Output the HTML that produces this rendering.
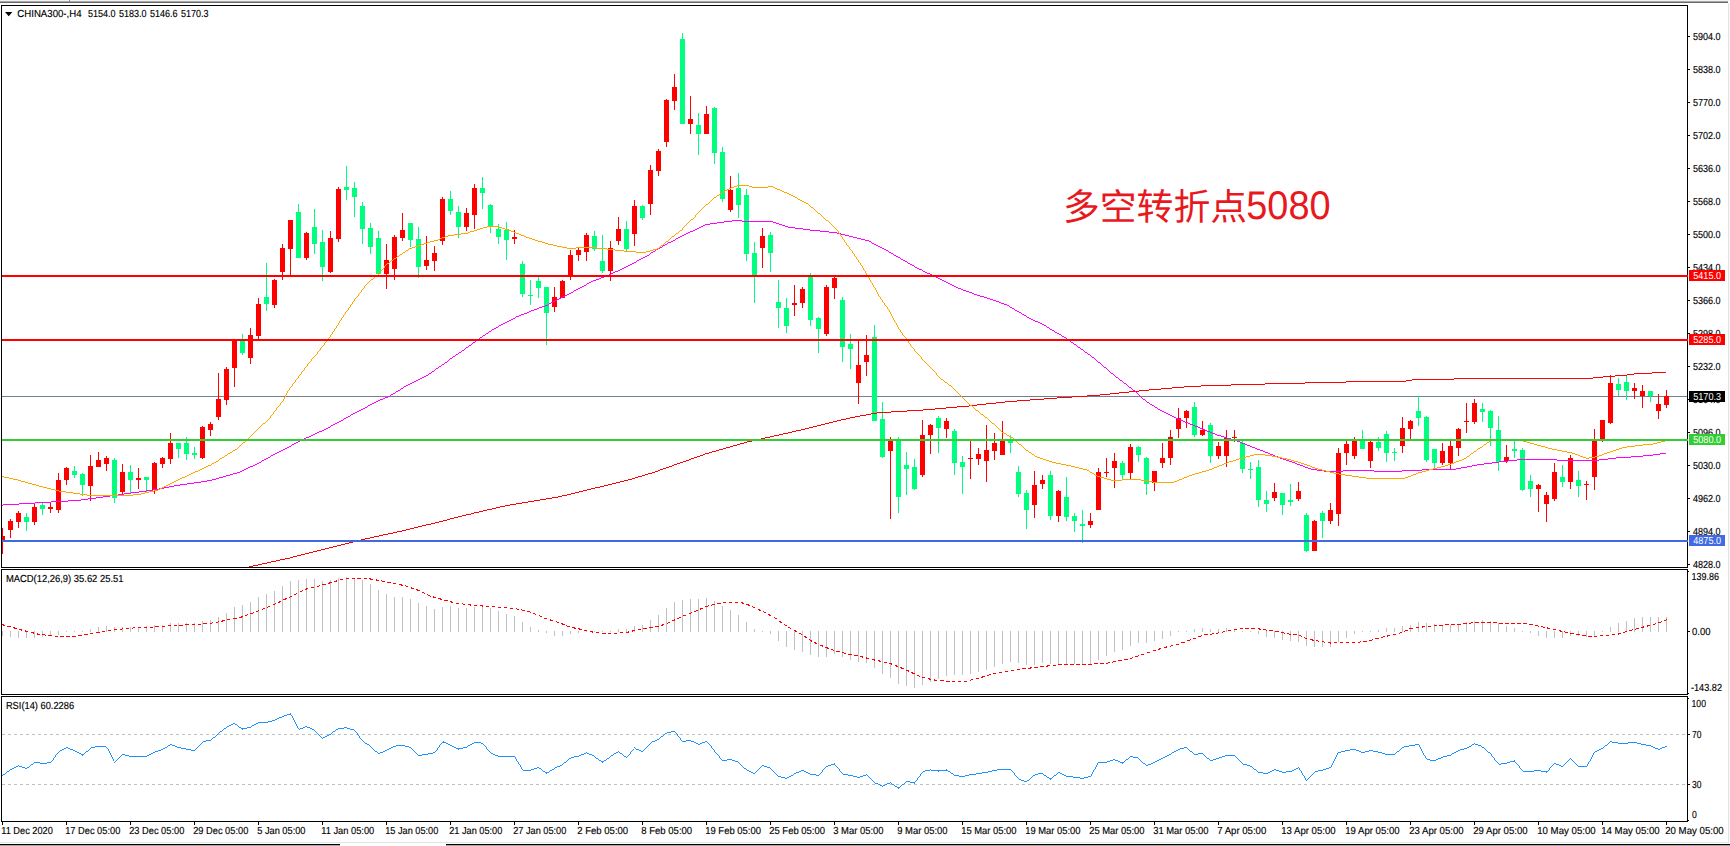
<!DOCTYPE html>
<html lang="zh"><head><meta charset="utf-8"><title>CHINA300-,H4</title>
<style>html,body{margin:0;padding:0;background:#fff;overflow:hidden}svg{display:block}text{font-family:"Liberation Sans", "Noto Sans CJK SC", sans-serif;text-rendering:geometricPrecision}.t{font-size:10.2px;fill:#000;stroke:#000;stroke-width:.15px}.w{font-size:10.2px;fill:#fff}.c{shape-rendering:crispEdges}</style></head><body>
<svg width="1730" height="846" viewBox="0 0 1730 846">
<rect width="1730" height="846" fill="#fff"/>
<g class="c">
<rect x="0" y="0" width="1730" height="1" fill="#f2f2f2"/>
<rect x="0" y="1" width="1728" height="1" fill="#a6a6a6"/>
<rect x="0" y="2" width="1728" height="1" fill="#6a6a6a"/>
<rect x="69" y="0" width="1" height="2" fill="#8a8a8a"/>
<rect x="1728" y="3" width="1" height="840" fill="#e3e3e3"/>
<rect x="1729" y="0" width="1" height="846" fill="#f8f8f8"/>
<rect x="0" y="842" width="1729" height="1" fill="#e3e3e3"/>
<rect x="0" y="844" width="340" height="1" fill="#000"/>
<rect x="339" y="844" width="1" height="2" fill="#000"/>
<rect x="446" y="844" width="1284" height="1" fill="#000"/>
<rect x="446" y="844" width="1" height="2" fill="#000"/>
<rect x="0" y="845" width="340" height="1" fill="#aaa"/>
<rect x="446" y="845" width="1284" height="1" fill="#aaa"/>
<rect x="1" y="5" width="1687" height="1" fill="#000"/>
<rect x="1" y="567" width="1687" height="1" fill="#000"/>
<rect x="1" y="5" width="1" height="563" fill="#000"/>
<rect x="1687" y="5" width="1" height="563" fill="#000"/>
<rect x="1" y="569" width="1687" height="1" fill="#000"/>
<rect x="1" y="694" width="1687" height="1" fill="#000"/>
<rect x="1" y="569" width="1" height="126" fill="#000"/>
<rect x="1687" y="569" width="1" height="126" fill="#000"/>
<rect x="1" y="696" width="1687" height="1" fill="#000"/>
<rect x="1" y="821" width="1687" height="1" fill="#000"/>
<rect x="1" y="696" width="1" height="126" fill="#000"/>
<rect x="1687" y="696" width="1" height="126" fill="#000"/>
</g>
<defs><clipPath id="cm"><rect x="2" y="6" width="1685" height="561"/></clipPath><clipPath id="c2"><rect x="2" y="570" width="1685" height="124"/></clipPath><clipPath id="c3"><rect x="2" y="697" width="1685" height="124"/></clipPath></defs>
<g clip-path="url(#cm)" class="c">
<rect x="2" y="396" width="1685" height="1" fill="#708090"/>
<rect x="2" y="528" width="1" height="26" fill="#ff0000"/>
<rect x="0" y="536" width="5" height="5" fill="#ff0000"/>
<rect x="10" y="519" width="1" height="19" fill="#ff0000"/>
<rect x="8" y="521" width="5" height="9" fill="#ff0000"/>
<rect x="18" y="511" width="1" height="17" fill="#ff0000"/>
<rect x="16" y="513" width="5" height="9" fill="#ff0000"/>
<rect x="26" y="513" width="1" height="18" fill="#00ff7f"/>
<rect x="24" y="517" width="5" height="5" fill="#00ff7f"/>
<rect x="34" y="503" width="1" height="22" fill="#ff0000"/>
<rect x="32" y="507" width="5" height="15" fill="#ff0000"/>
<rect x="42" y="502" width="1" height="13" fill="#00ff7f"/>
<rect x="40" y="505" width="5" height="4" fill="#00ff7f"/>
<rect x="50" y="502" width="1" height="11" fill="#ff0000"/>
<rect x="48" y="507" width="5" height="2" fill="#ff0000"/>
<rect x="58" y="473" width="1" height="40" fill="#ff0000"/>
<rect x="56" y="480" width="5" height="30" fill="#ff0000"/>
<rect x="66" y="467" width="1" height="18" fill="#ff0000"/>
<rect x="64" y="468" width="5" height="12" fill="#ff0000"/>
<rect x="74" y="466" width="1" height="12" fill="#00ff7f"/>
<rect x="72" y="471" width="5" height="4" fill="#00ff7f"/>
<rect x="82" y="473" width="1" height="23" fill="#00ff7f"/>
<rect x="80" y="474" width="5" height="11" fill="#00ff7f"/>
<rect x="90" y="455" width="1" height="46" fill="#ff0000"/>
<rect x="88" y="466" width="5" height="20" fill="#ff0000"/>
<rect x="98" y="452" width="1" height="15" fill="#ff0000"/>
<rect x="96" y="460" width="5" height="7" fill="#ff0000"/>
<rect x="106" y="456" width="1" height="15" fill="#ff0000"/>
<rect x="104" y="458" width="5" height="6" fill="#ff0000"/>
<rect x="114" y="458" width="1" height="45" fill="#00ff7f"/>
<rect x="112" y="460" width="5" height="38" fill="#00ff7f"/>
<rect x="122" y="464" width="1" height="30" fill="#ff0000"/>
<rect x="120" y="472" width="5" height="20" fill="#ff0000"/>
<rect x="130" y="465" width="1" height="28" fill="#00ff7f"/>
<rect x="128" y="472" width="5" height="8" fill="#00ff7f"/>
<rect x="138" y="468" width="1" height="21" fill="#ff0000"/>
<rect x="136" y="478" width="5" height="2" fill="#ff0000"/>
<rect x="146" y="477" width="1" height="15" fill="#00ff7f"/>
<rect x="144" y="477" width="5" height="3" fill="#00ff7f"/>
<rect x="154" y="462" width="1" height="32" fill="#ff0000"/>
<rect x="152" y="463" width="5" height="27" fill="#ff0000"/>
<rect x="162" y="457" width="1" height="11" fill="#ff0000"/>
<rect x="160" y="458" width="5" height="6" fill="#ff0000"/>
<rect x="170" y="433" width="1" height="31" fill="#ff0000"/>
<rect x="168" y="443" width="5" height="16" fill="#ff0000"/>
<rect x="178" y="443" width="1" height="15" fill="#00ff7f"/>
<rect x="176" y="443" width="5" height="6" fill="#00ff7f"/>
<rect x="186" y="437" width="1" height="23" fill="#00ff7f"/>
<rect x="184" y="443" width="5" height="11" fill="#00ff7f"/>
<rect x="194" y="447" width="1" height="12" fill="#00ff7f"/>
<rect x="192" y="453" width="5" height="2" fill="#00ff7f"/>
<rect x="202" y="426" width="1" height="33" fill="#ff0000"/>
<rect x="200" y="427" width="5" height="31" fill="#ff0000"/>
<rect x="210" y="422" width="1" height="14" fill="#ff0000"/>
<rect x="208" y="424" width="5" height="6" fill="#ff0000"/>
<rect x="218" y="373" width="1" height="47" fill="#ff0000"/>
<rect x="216" y="399" width="5" height="18" fill="#ff0000"/>
<rect x="226" y="367" width="1" height="38" fill="#ff0000"/>
<rect x="224" y="369" width="5" height="31" fill="#ff0000"/>
<rect x="234" y="340" width="1" height="47" fill="#ff0000"/>
<rect x="232" y="340" width="5" height="28" fill="#ff0000"/>
<rect x="242" y="334" width="1" height="21" fill="#00ff7f"/>
<rect x="240" y="341" width="5" height="12" fill="#00ff7f"/>
<rect x="250" y="328" width="1" height="36" fill="#ff0000"/>
<rect x="248" y="335" width="5" height="23" fill="#ff0000"/>
<rect x="258" y="298" width="1" height="41" fill="#ff0000"/>
<rect x="256" y="304" width="5" height="32" fill="#ff0000"/>
<rect x="266" y="263" width="1" height="48" fill="#00ff7f"/>
<rect x="264" y="297" width="5" height="7" fill="#00ff7f"/>
<rect x="274" y="279" width="1" height="29" fill="#ff0000"/>
<rect x="272" y="280" width="5" height="25" fill="#ff0000"/>
<rect x="282" y="244" width="1" height="36" fill="#ff0000"/>
<rect x="280" y="248" width="5" height="24" fill="#ff0000"/>
<rect x="290" y="220" width="1" height="56" fill="#ff0000"/>
<rect x="288" y="220" width="5" height="29" fill="#ff0000"/>
<rect x="298" y="204" width="1" height="54" fill="#00ff7f"/>
<rect x="296" y="212" width="5" height="46" fill="#00ff7f"/>
<rect x="306" y="232" width="1" height="28" fill="#ff0000"/>
<rect x="304" y="233" width="5" height="25" fill="#ff0000"/>
<rect x="314" y="209" width="1" height="45" fill="#00ff7f"/>
<rect x="312" y="227" width="5" height="17" fill="#00ff7f"/>
<rect x="322" y="230" width="1" height="51" fill="#00ff7f"/>
<rect x="320" y="242" width="5" height="25" fill="#00ff7f"/>
<rect x="330" y="231" width="1" height="42" fill="#ff0000"/>
<rect x="328" y="238" width="5" height="34" fill="#ff0000"/>
<rect x="338" y="187" width="1" height="55" fill="#ff0000"/>
<rect x="336" y="189" width="5" height="50" fill="#ff0000"/>
<rect x="346" y="166" width="1" height="34" fill="#00ff7f"/>
<rect x="344" y="187" width="5" height="3" fill="#00ff7f"/>
<rect x="354" y="182" width="1" height="35" fill="#00ff7f"/>
<rect x="352" y="188" width="5" height="9" fill="#00ff7f"/>
<rect x="362" y="202" width="1" height="42" fill="#00ff7f"/>
<rect x="360" y="206" width="5" height="23" fill="#00ff7f"/>
<rect x="370" y="223" width="1" height="31" fill="#00ff7f"/>
<rect x="368" y="228" width="5" height="19" fill="#00ff7f"/>
<rect x="378" y="231" width="1" height="44" fill="#00ff7f"/>
<rect x="376" y="238" width="5" height="36" fill="#00ff7f"/>
<rect x="386" y="244" width="1" height="45" fill="#ff0000"/>
<rect x="384" y="260" width="5" height="14" fill="#ff0000"/>
<rect x="394" y="235" width="1" height="45" fill="#ff0000"/>
<rect x="392" y="237" width="5" height="32" fill="#ff0000"/>
<rect x="402" y="213" width="1" height="28" fill="#ff0000"/>
<rect x="400" y="230" width="5" height="8" fill="#ff0000"/>
<rect x="410" y="223" width="1" height="24" fill="#00ff7f"/>
<rect x="408" y="223" width="5" height="17" fill="#00ff7f"/>
<rect x="418" y="227" width="1" height="51" fill="#00ff7f"/>
<rect x="416" y="239" width="5" height="28" fill="#00ff7f"/>
<rect x="426" y="236" width="1" height="34" fill="#ff0000"/>
<rect x="424" y="260" width="5" height="6" fill="#ff0000"/>
<rect x="434" y="246" width="1" height="25" fill="#ff0000"/>
<rect x="432" y="253" width="5" height="8" fill="#ff0000"/>
<rect x="442" y="197" width="1" height="48" fill="#ff0000"/>
<rect x="440" y="199" width="5" height="42" fill="#ff0000"/>
<rect x="450" y="191" width="1" height="24" fill="#00ff7f"/>
<rect x="448" y="199" width="5" height="12" fill="#00ff7f"/>
<rect x="458" y="206" width="1" height="32" fill="#00ff7f"/>
<rect x="456" y="212" width="5" height="15" fill="#00ff7f"/>
<rect x="466" y="208" width="1" height="23" fill="#ff0000"/>
<rect x="464" y="213" width="5" height="14" fill="#ff0000"/>
<rect x="474" y="184" width="1" height="45" fill="#ff0000"/>
<rect x="472" y="188" width="5" height="27" fill="#ff0000"/>
<rect x="482" y="177" width="1" height="32" fill="#00ff7f"/>
<rect x="480" y="188" width="5" height="5" fill="#00ff7f"/>
<rect x="490" y="204" width="1" height="29" fill="#00ff7f"/>
<rect x="488" y="205" width="5" height="22" fill="#00ff7f"/>
<rect x="498" y="224" width="1" height="20" fill="#00ff7f"/>
<rect x="496" y="229" width="5" height="8" fill="#00ff7f"/>
<rect x="506" y="222" width="1" height="38" fill="#00ff7f"/>
<rect x="504" y="230" width="5" height="10" fill="#00ff7f"/>
<rect x="514" y="230" width="1" height="14" fill="#ff0000"/>
<rect x="512" y="237" width="5" height="2" fill="#ff0000"/>
<rect x="522" y="261" width="1" height="36" fill="#00ff7f"/>
<rect x="520" y="264" width="5" height="30" fill="#00ff7f"/>
<rect x="530" y="280" width="1" height="25" fill="#00ff7f"/>
<rect x="528" y="295" width="5" height="1" fill="#00ff7f"/>
<rect x="538" y="277" width="1" height="21" fill="#00ff7f"/>
<rect x="536" y="281" width="5" height="7" fill="#00ff7f"/>
<rect x="546" y="287" width="1" height="58" fill="#00ff7f"/>
<rect x="544" y="287" width="5" height="26" fill="#00ff7f"/>
<rect x="554" y="287" width="1" height="25" fill="#ff0000"/>
<rect x="552" y="297" width="5" height="10" fill="#ff0000"/>
<rect x="562" y="280" width="1" height="18" fill="#ff0000"/>
<rect x="560" y="281" width="5" height="17" fill="#ff0000"/>
<rect x="570" y="250" width="1" height="30" fill="#ff0000"/>
<rect x="568" y="255" width="5" height="21" fill="#ff0000"/>
<rect x="578" y="247" width="1" height="14" fill="#ff0000"/>
<rect x="576" y="250" width="5" height="5" fill="#ff0000"/>
<rect x="586" y="233" width="1" height="28" fill="#ff0000"/>
<rect x="584" y="235" width="5" height="17" fill="#ff0000"/>
<rect x="594" y="231" width="1" height="20" fill="#00ff7f"/>
<rect x="592" y="236" width="5" height="13" fill="#00ff7f"/>
<rect x="602" y="235" width="1" height="38" fill="#00ff7f"/>
<rect x="600" y="261" width="5" height="10" fill="#00ff7f"/>
<rect x="610" y="241" width="1" height="40" fill="#ff0000"/>
<rect x="608" y="248" width="5" height="23" fill="#ff0000"/>
<rect x="618" y="217" width="1" height="28" fill="#ff0000"/>
<rect x="616" y="229" width="5" height="12" fill="#ff0000"/>
<rect x="626" y="221" width="1" height="30" fill="#00ff7f"/>
<rect x="624" y="229" width="5" height="20" fill="#00ff7f"/>
<rect x="634" y="200" width="1" height="46" fill="#ff0000"/>
<rect x="632" y="206" width="5" height="28" fill="#ff0000"/>
<rect x="642" y="205" width="1" height="15" fill="#00ff7f"/>
<rect x="640" y="206" width="5" height="12" fill="#00ff7f"/>
<rect x="650" y="165" width="1" height="50" fill="#ff0000"/>
<rect x="648" y="170" width="5" height="34" fill="#ff0000"/>
<rect x="658" y="149" width="1" height="27" fill="#ff0000"/>
<rect x="656" y="151" width="5" height="20" fill="#ff0000"/>
<rect x="666" y="99" width="1" height="48" fill="#ff0000"/>
<rect x="664" y="100" width="5" height="42" fill="#ff0000"/>
<rect x="674" y="74" width="1" height="36" fill="#ff0000"/>
<rect x="672" y="87" width="5" height="14" fill="#ff0000"/>
<rect x="682" y="33" width="1" height="91" fill="#00ff7f"/>
<rect x="680" y="39" width="5" height="85" fill="#00ff7f"/>
<rect x="690" y="96" width="1" height="38" fill="#ff0000"/>
<rect x="688" y="119" width="5" height="5" fill="#ff0000"/>
<rect x="698" y="113" width="1" height="42" fill="#00ff7f"/>
<rect x="696" y="125" width="5" height="9" fill="#00ff7f"/>
<rect x="706" y="106" width="1" height="28" fill="#ff0000"/>
<rect x="704" y="114" width="5" height="20" fill="#ff0000"/>
<rect x="714" y="107" width="1" height="57" fill="#00ff7f"/>
<rect x="712" y="108" width="5" height="45" fill="#00ff7f"/>
<rect x="722" y="147" width="1" height="55" fill="#00ff7f"/>
<rect x="720" y="152" width="5" height="47" fill="#00ff7f"/>
<rect x="730" y="176" width="1" height="36" fill="#ff0000"/>
<rect x="728" y="190" width="5" height="20" fill="#ff0000"/>
<rect x="738" y="173" width="1" height="45" fill="#00ff7f"/>
<rect x="736" y="188" width="5" height="17" fill="#00ff7f"/>
<rect x="746" y="189" width="1" height="72" fill="#00ff7f"/>
<rect x="744" y="195" width="5" height="59" fill="#00ff7f"/>
<rect x="754" y="242" width="1" height="61" fill="#00ff7f"/>
<rect x="752" y="253" width="5" height="23" fill="#00ff7f"/>
<rect x="762" y="228" width="1" height="40" fill="#ff0000"/>
<rect x="760" y="236" width="5" height="12" fill="#ff0000"/>
<rect x="770" y="232" width="1" height="40" fill="#00ff7f"/>
<rect x="768" y="235" width="5" height="18" fill="#00ff7f"/>
<rect x="778" y="280" width="1" height="48" fill="#00ff7f"/>
<rect x="776" y="302" width="5" height="6" fill="#00ff7f"/>
<rect x="786" y="298" width="1" height="35" fill="#00ff7f"/>
<rect x="784" y="308" width="5" height="18" fill="#00ff7f"/>
<rect x="794" y="285" width="1" height="31" fill="#ff0000"/>
<rect x="792" y="303" width="5" height="2" fill="#ff0000"/>
<rect x="802" y="287" width="1" height="21" fill="#ff0000"/>
<rect x="800" y="289" width="5" height="14" fill="#ff0000"/>
<rect x="810" y="273" width="1" height="53" fill="#00ff7f"/>
<rect x="808" y="277" width="5" height="43" fill="#00ff7f"/>
<rect x="818" y="317" width="1" height="36" fill="#00ff7f"/>
<rect x="816" y="318" width="5" height="11" fill="#00ff7f"/>
<rect x="826" y="285" width="1" height="51" fill="#ff0000"/>
<rect x="824" y="287" width="5" height="47" fill="#ff0000"/>
<rect x="834" y="277" width="1" height="22" fill="#ff0000"/>
<rect x="832" y="278" width="5" height="10" fill="#ff0000"/>
<rect x="842" y="297" width="1" height="65" fill="#00ff7f"/>
<rect x="840" y="300" width="5" height="47" fill="#00ff7f"/>
<rect x="850" y="334" width="1" height="35" fill="#00ff7f"/>
<rect x="848" y="344" width="5" height="5" fill="#00ff7f"/>
<rect x="858" y="340" width="1" height="64" fill="#ff0000"/>
<rect x="856" y="365" width="5" height="18" fill="#ff0000"/>
<rect x="866" y="335" width="1" height="41" fill="#ff0000"/>
<rect x="864" y="355" width="5" height="7" fill="#ff0000"/>
<rect x="874" y="325" width="1" height="96" fill="#00ff7f"/>
<rect x="872" y="337" width="5" height="84" fill="#00ff7f"/>
<rect x="882" y="402" width="1" height="56" fill="#00ff7f"/>
<rect x="880" y="419" width="5" height="38" fill="#00ff7f"/>
<rect x="890" y="437" width="1" height="82" fill="#ff0000"/>
<rect x="888" y="441" width="5" height="10" fill="#ff0000"/>
<rect x="898" y="437" width="1" height="76" fill="#00ff7f"/>
<rect x="896" y="441" width="5" height="56" fill="#00ff7f"/>
<rect x="906" y="452" width="1" height="43" fill="#00ff7f"/>
<rect x="904" y="465" width="5" height="4" fill="#00ff7f"/>
<rect x="914" y="459" width="1" height="31" fill="#00ff7f"/>
<rect x="912" y="467" width="5" height="22" fill="#00ff7f"/>
<rect x="922" y="420" width="1" height="57" fill="#ff0000"/>
<rect x="920" y="435" width="5" height="40" fill="#ff0000"/>
<rect x="930" y="424" width="1" height="30" fill="#ff0000"/>
<rect x="928" y="425" width="5" height="10" fill="#ff0000"/>
<rect x="938" y="416" width="1" height="37" fill="#00ff7f"/>
<rect x="936" y="418" width="5" height="10" fill="#00ff7f"/>
<rect x="946" y="418" width="1" height="20" fill="#ff0000"/>
<rect x="944" y="421" width="5" height="8" fill="#ff0000"/>
<rect x="954" y="429" width="1" height="46" fill="#00ff7f"/>
<rect x="952" y="431" width="5" height="32" fill="#00ff7f"/>
<rect x="962" y="456" width="1" height="38" fill="#00ff7f"/>
<rect x="960" y="462" width="5" height="5" fill="#00ff7f"/>
<rect x="970" y="441" width="1" height="38" fill="#ff0000"/>
<rect x="968" y="458" width="5" height="1" fill="#ff0000"/>
<rect x="978" y="448" width="1" height="17" fill="#ff0000"/>
<rect x="976" y="454" width="5" height="5" fill="#ff0000"/>
<rect x="986" y="425" width="1" height="57" fill="#ff0000"/>
<rect x="984" y="450" width="5" height="11" fill="#ff0000"/>
<rect x="994" y="433" width="1" height="27" fill="#ff0000"/>
<rect x="992" y="443" width="5" height="8" fill="#ff0000"/>
<rect x="1002" y="421" width="1" height="34" fill="#ff0000"/>
<rect x="1000" y="440" width="5" height="15" fill="#ff0000"/>
<rect x="1010" y="435" width="1" height="18" fill="#00ff7f"/>
<rect x="1008" y="439" width="5" height="4" fill="#00ff7f"/>
<rect x="1018" y="466" width="1" height="31" fill="#00ff7f"/>
<rect x="1016" y="472" width="5" height="22" fill="#00ff7f"/>
<rect x="1026" y="490" width="1" height="39" fill="#00ff7f"/>
<rect x="1024" y="493" width="5" height="17" fill="#00ff7f"/>
<rect x="1034" y="471" width="1" height="47" fill="#ff0000"/>
<rect x="1032" y="485" width="5" height="20" fill="#ff0000"/>
<rect x="1042" y="475" width="1" height="14" fill="#ff0000"/>
<rect x="1040" y="480" width="5" height="4" fill="#ff0000"/>
<rect x="1050" y="471" width="1" height="49" fill="#00ff7f"/>
<rect x="1048" y="475" width="5" height="41" fill="#00ff7f"/>
<rect x="1058" y="490" width="1" height="32" fill="#ff0000"/>
<rect x="1056" y="491" width="5" height="25" fill="#ff0000"/>
<rect x="1066" y="477" width="1" height="44" fill="#00ff7f"/>
<rect x="1064" y="497" width="5" height="20" fill="#00ff7f"/>
<rect x="1074" y="513" width="1" height="19" fill="#00ff7f"/>
<rect x="1072" y="516" width="5" height="5" fill="#00ff7f"/>
<rect x="1082" y="510" width="1" height="33" fill="#00ff7f"/>
<rect x="1080" y="524" width="5" height="2" fill="#00ff7f"/>
<rect x="1090" y="513" width="1" height="15" fill="#ff0000"/>
<rect x="1088" y="521" width="5" height="4" fill="#ff0000"/>
<rect x="1098" y="468" width="1" height="42" fill="#ff0000"/>
<rect x="1096" y="472" width="5" height="38" fill="#ff0000"/>
<rect x="1106" y="458" width="1" height="19" fill="#ff0000"/>
<rect x="1104" y="472" width="5" height="1" fill="#ff0000"/>
<rect x="1114" y="453" width="1" height="35" fill="#ff0000"/>
<rect x="1112" y="461" width="5" height="7" fill="#ff0000"/>
<rect x="1122" y="461" width="1" height="18" fill="#00ff7f"/>
<rect x="1120" y="463" width="5" height="12" fill="#00ff7f"/>
<rect x="1130" y="444" width="1" height="35" fill="#ff0000"/>
<rect x="1128" y="447" width="5" height="26" fill="#ff0000"/>
<rect x="1138" y="446" width="1" height="16" fill="#00ff7f"/>
<rect x="1136" y="447" width="5" height="8" fill="#00ff7f"/>
<rect x="1146" y="457" width="1" height="38" fill="#00ff7f"/>
<rect x="1144" y="458" width="5" height="26" fill="#00ff7f"/>
<rect x="1154" y="471" width="1" height="20" fill="#ff0000"/>
<rect x="1152" y="471" width="5" height="12" fill="#ff0000"/>
<rect x="1162" y="443" width="1" height="25" fill="#ff0000"/>
<rect x="1160" y="458" width="5" height="5" fill="#ff0000"/>
<rect x="1170" y="430" width="1" height="35" fill="#ff0000"/>
<rect x="1168" y="437" width="5" height="21" fill="#ff0000"/>
<rect x="1178" y="408" width="1" height="30" fill="#ff0000"/>
<rect x="1176" y="418" width="5" height="11" fill="#ff0000"/>
<rect x="1186" y="410" width="1" height="18" fill="#ff0000"/>
<rect x="1184" y="411" width="5" height="7" fill="#ff0000"/>
<rect x="1194" y="402" width="1" height="35" fill="#00ff7f"/>
<rect x="1192" y="407" width="5" height="28" fill="#00ff7f"/>
<rect x="1202" y="421" width="1" height="15" fill="#ff0000"/>
<rect x="1200" y="430" width="5" height="5" fill="#ff0000"/>
<rect x="1210" y="423" width="1" height="40" fill="#00ff7f"/>
<rect x="1208" y="425" width="5" height="31" fill="#00ff7f"/>
<rect x="1218" y="442" width="1" height="17" fill="#ff0000"/>
<rect x="1216" y="446" width="5" height="10" fill="#ff0000"/>
<rect x="1226" y="430" width="1" height="37" fill="#ff0000"/>
<rect x="1224" y="438" width="5" height="18" fill="#ff0000"/>
<rect x="1234" y="430" width="1" height="12" fill="#ff0000"/>
<rect x="1232" y="437" width="5" height="1" fill="#ff0000"/>
<rect x="1242" y="441" width="1" height="32" fill="#00ff7f"/>
<rect x="1240" y="443" width="5" height="26" fill="#00ff7f"/>
<rect x="1250" y="462" width="1" height="17" fill="#00ff7f"/>
<rect x="1248" y="469" width="5" height="1" fill="#00ff7f"/>
<rect x="1258" y="460" width="1" height="47" fill="#00ff7f"/>
<rect x="1256" y="467" width="5" height="33" fill="#00ff7f"/>
<rect x="1266" y="491" width="1" height="21" fill="#00ff7f"/>
<rect x="1264" y="500" width="5" height="4" fill="#00ff7f"/>
<rect x="1274" y="483" width="1" height="18" fill="#ff0000"/>
<rect x="1272" y="492" width="5" height="6" fill="#ff0000"/>
<rect x="1282" y="493" width="1" height="22" fill="#00ff7f"/>
<rect x="1280" y="493" width="5" height="12" fill="#00ff7f"/>
<rect x="1290" y="484" width="1" height="22" fill="#00ff7f"/>
<rect x="1288" y="500" width="5" height="2" fill="#00ff7f"/>
<rect x="1298" y="482" width="1" height="19" fill="#ff0000"/>
<rect x="1296" y="491" width="5" height="8" fill="#ff0000"/>
<rect x="1306" y="513" width="1" height="39" fill="#00ff7f"/>
<rect x="1304" y="515" width="5" height="36" fill="#00ff7f"/>
<rect x="1314" y="520" width="1" height="31" fill="#ff0000"/>
<rect x="1312" y="521" width="5" height="30" fill="#ff0000"/>
<rect x="1322" y="511" width="1" height="27" fill="#00ff7f"/>
<rect x="1320" y="513" width="5" height="8" fill="#00ff7f"/>
<rect x="1330" y="503" width="1" height="21" fill="#ff0000"/>
<rect x="1328" y="510" width="5" height="11" fill="#ff0000"/>
<rect x="1338" y="448" width="1" height="78" fill="#ff0000"/>
<rect x="1336" y="453" width="5" height="61" fill="#ff0000"/>
<rect x="1346" y="441" width="1" height="24" fill="#ff0000"/>
<rect x="1344" y="444" width="5" height="9" fill="#ff0000"/>
<rect x="1354" y="437" width="1" height="22" fill="#ff0000"/>
<rect x="1352" y="441" width="5" height="15" fill="#ff0000"/>
<rect x="1362" y="430" width="1" height="19" fill="#00ff7f"/>
<rect x="1360" y="441" width="5" height="8" fill="#00ff7f"/>
<rect x="1370" y="441" width="1" height="27" fill="#ff0000"/>
<rect x="1368" y="442" width="5" height="19" fill="#ff0000"/>
<rect x="1378" y="437" width="1" height="14" fill="#00ff7f"/>
<rect x="1376" y="442" width="5" height="6" fill="#00ff7f"/>
<rect x="1386" y="431" width="1" height="31" fill="#00ff7f"/>
<rect x="1384" y="434" width="5" height="19" fill="#00ff7f"/>
<rect x="1394" y="448" width="1" height="13" fill="#00ff7f"/>
<rect x="1392" y="452" width="5" height="1" fill="#00ff7f"/>
<rect x="1402" y="417" width="1" height="36" fill="#ff0000"/>
<rect x="1400" y="428" width="5" height="18" fill="#ff0000"/>
<rect x="1410" y="420" width="1" height="19" fill="#ff0000"/>
<rect x="1408" y="421" width="5" height="8" fill="#ff0000"/>
<rect x="1418" y="396" width="1" height="30" fill="#00ff7f"/>
<rect x="1416" y="411" width="5" height="7" fill="#00ff7f"/>
<rect x="1426" y="416" width="1" height="46" fill="#00ff7f"/>
<rect x="1424" y="417" width="5" height="43" fill="#00ff7f"/>
<rect x="1434" y="449" width="1" height="19" fill="#00ff7f"/>
<rect x="1432" y="449" width="5" height="14" fill="#00ff7f"/>
<rect x="1442" y="443" width="1" height="22" fill="#ff0000"/>
<rect x="1440" y="451" width="5" height="12" fill="#ff0000"/>
<rect x="1450" y="441" width="1" height="28" fill="#ff0000"/>
<rect x="1448" y="446" width="5" height="17" fill="#ff0000"/>
<rect x="1458" y="428" width="1" height="28" fill="#ff0000"/>
<rect x="1456" y="429" width="5" height="19" fill="#ff0000"/>
<rect x="1466" y="403" width="1" height="30" fill="#ff0000"/>
<rect x="1464" y="421" width="5" height="1" fill="#ff0000"/>
<rect x="1474" y="399" width="1" height="25" fill="#ff0000"/>
<rect x="1472" y="403" width="5" height="19" fill="#ff0000"/>
<rect x="1482" y="403" width="1" height="19" fill="#00ff7f"/>
<rect x="1480" y="409" width="5" height="3" fill="#00ff7f"/>
<rect x="1490" y="410" width="1" height="36" fill="#00ff7f"/>
<rect x="1488" y="411" width="5" height="17" fill="#00ff7f"/>
<rect x="1498" y="416" width="1" height="55" fill="#00ff7f"/>
<rect x="1496" y="430" width="5" height="32" fill="#00ff7f"/>
<rect x="1506" y="445" width="1" height="18" fill="#ff0000"/>
<rect x="1504" y="457" width="5" height="4" fill="#ff0000"/>
<rect x="1514" y="441" width="1" height="17" fill="#00ff7f"/>
<rect x="1512" y="449" width="5" height="2" fill="#00ff7f"/>
<rect x="1522" y="448" width="1" height="43" fill="#00ff7f"/>
<rect x="1520" y="450" width="5" height="40" fill="#00ff7f"/>
<rect x="1530" y="475" width="1" height="22" fill="#00ff7f"/>
<rect x="1528" y="481" width="5" height="8" fill="#00ff7f"/>
<rect x="1538" y="484" width="1" height="28" fill="#ff0000"/>
<rect x="1536" y="485" width="5" height="4" fill="#ff0000"/>
<rect x="1546" y="492" width="1" height="30" fill="#ff0000"/>
<rect x="1544" y="495" width="5" height="9" fill="#ff0000"/>
<rect x="1554" y="463" width="1" height="38" fill="#ff0000"/>
<rect x="1552" y="472" width="5" height="27" fill="#ff0000"/>
<rect x="1562" y="465" width="1" height="22" fill="#00ff7f"/>
<rect x="1560" y="477" width="5" height="5" fill="#00ff7f"/>
<rect x="1570" y="455" width="1" height="34" fill="#ff0000"/>
<rect x="1568" y="458" width="5" height="24" fill="#ff0000"/>
<rect x="1578" y="471" width="1" height="26" fill="#00ff7f"/>
<rect x="1576" y="480" width="5" height="6" fill="#00ff7f"/>
<rect x="1586" y="481" width="1" height="19" fill="#ff0000"/>
<rect x="1584" y="484" width="5" height="1" fill="#ff0000"/>
<rect x="1594" y="429" width="1" height="61" fill="#ff0000"/>
<rect x="1592" y="441" width="5" height="36" fill="#ff0000"/>
<rect x="1602" y="420" width="1" height="22" fill="#ff0000"/>
<rect x="1600" y="420" width="5" height="20" fill="#ff0000"/>
<rect x="1610" y="375" width="1" height="49" fill="#ff0000"/>
<rect x="1608" y="383" width="5" height="40" fill="#ff0000"/>
<rect x="1618" y="378" width="1" height="18" fill="#00ff7f"/>
<rect x="1616" y="384" width="5" height="6" fill="#00ff7f"/>
<rect x="1626" y="376" width="1" height="24" fill="#00ff7f"/>
<rect x="1624" y="382" width="5" height="9" fill="#00ff7f"/>
<rect x="1634" y="383" width="1" height="16" fill="#ff0000"/>
<rect x="1632" y="388" width="5" height="3" fill="#ff0000"/>
<rect x="1642" y="385" width="1" height="23" fill="#ff0000"/>
<rect x="1640" y="391" width="5" height="5" fill="#ff0000"/>
<rect x="1650" y="391" width="1" height="11" fill="#00ff7f"/>
<rect x="1648" y="391" width="5" height="5" fill="#00ff7f"/>
<rect x="1658" y="394" width="1" height="25" fill="#ff0000"/>
<rect x="1656" y="404" width="5" height="7" fill="#ff0000"/>
<rect x="1666" y="390" width="1" height="18" fill="#ff0000"/>
<rect x="1664" y="396" width="5" height="9" fill="#ff0000"/>
<path fill="#ff0000" d="M1265 383h40v1h-40zM293 556h4v1h-4zM666 467h3v1h-3zM1412 379h42v1h-42zM1201 385h30v1h-30zM1454 378h139v1h-139zM1161 388h11v1h-11zM357 540h4v1h-4zM977 404h9v1h-9zM891 411h16v1h-16zM1615 375h12v1h-12zM1184 386h17v1h-17zM935 408h11v1h-11zM1231 384h34v1h-34zM841 419h5v1h-5zM1110 393h9v1h-9zM301 554h4v1h-4zM1072 396h15v1h-15zM280 559h5v1h-5zM1603 376h12v1h-12zM1030 399h14v1h-14zM907 410h16v1h-16zM345 543h4v1h-4zM1346 381h60v1h-60zM1100 394h10v1h-10zM1119 392h10v1h-10zM655 471h3v1h-3zM1057 397h15v1h-15zM262 563h5v1h-5zM276 560h4v1h-4zM1005 401h12v1h-12zM850 417h5v1h-5zM309 552h4v1h-4zM829 422h4v1h-4zM648 473h4v1h-4zM290 557h3v1h-3zM1406 380h6v1h-6zM1305 382h41v1h-41zM1149 389h12v1h-12zM1652 372h14v1h-14zM986 403h10v1h-10zM474 512h5v1h-5zM660 469h3v1h-3zM792 431h4v1h-4zM877 412h14v1h-14zM689 459h2v1h-2zM1129 391h10v1h-10zM837 420h4v1h-4zM297 555h4v1h-4zM817 425h4v1h-4zM855 416h5v1h-5zM638 476h4v1h-4zM245 567h4v1h-4zM258 564h4v1h-4zM779 434h4v1h-4zM860 415h6v1h-6zM694 457h3v1h-3zM747 441h5v1h-5zM996 402h9v1h-9zM825 423h4v1h-4zM645 474h3v1h-3zM1139 390h10v1h-10zM285 558h5v1h-5zM1172 387h12v1h-12zM505 505h5v1h-5zM946 407h11v1h-11zM1627 374h7v1h-7zM788 432h4v1h-4zM871 413h6v1h-6zM487 509h5v1h-5zM765 437h5v1h-5zM500 506h5v1h-5zM1044 398h13v1h-13zM652 472h3v1h-3zM813 426h4v1h-4zM683 461h3v1h-3zM516 503h6v1h-6zM730 446h3v1h-3zM462 515h4v1h-4zM774 435h5v1h-5zM957 406h12v1h-12zM1634 373h18v1h-18zM616 482h4v1h-4zM595 487h5v1h-5zM756 439h5v1h-5zM737 444h3v1h-3zM450 518h4v1h-4zM522 502h6v1h-6zM534 500h6v1h-6zM783 433h5v1h-5zM761 438h4v1h-4zM801 429h4v1h-4zM528 501h6v1h-6zM604 485h4v1h-4zM680 462h3v1h-3zM510 504h6v1h-6zM583 490h4v1h-4zM458 516h4v1h-4zM426 524h5v1h-5zM628 479h4v1h-4zM439 521h4v1h-4zM406 529h4v1h-4zM374 536h5v1h-5zM1593 377h10v1h-10zM471 513h3v1h-3zM1087 395h13v1h-13zM591 488h4v1h-4zM435 522h4v1h-4zM414 527h4v1h-4zM552 497h6v1h-6zM361 539h4v1h-4zM744 442h3v1h-3zM923 409h12v1h-12zM726 447h4v1h-4zM579 491h4v1h-4zM388 533h5v1h-5zM546 498h6v1h-6zM422 525h4v1h-4zM674 464h3v1h-3zM402 530h4v1h-4zM370 537h4v1h-4zM719 449h4v1h-4zM349 542h4v1h-4zM383 534h5v1h-5zM733 445h4v1h-4zM587 489h4v1h-4zM567 494h4v1h-4zM1017 400h13v1h-13zM313 551h4v1h-4zM709 452h3v1h-3zM365 538h5v1h-5zM716 450h3v1h-3zM410 528h4v1h-4zM325 548h4v1h-4zM540 499h6v1h-6zM705 453h4v1h-4zM249 566h4v1h-4zM333 546h4v1h-4zM321 549h4v1h-4zM700 455h3v1h-3zM866 414h5v1h-5zM253 565h5v1h-5zM271 561h5v1h-5zM483 510h4v1h-4zM686 460h3v1h-3zM846 418h4v1h-4zM267 562h4v1h-4zM770 436h4v1h-4zM635 477h3v1h-3zM796 430h5v1h-5zM496 507h4v1h-4zM466 514h5v1h-5zM447 519h3v1h-3zM624 480h4v1h-4zM809 427h4v1h-4zM612 483h4v1h-4zM752 440h4v1h-4zM397 531h5v1h-5zM479 511h4v1h-4zM600 486h4v1h-4zM562 495h5v1h-5zM672 465h2v1h-2zM575 492h4v1h-4zM431 523h4v1h-4zM418 526h4v1h-4zM379 535h4v1h-4zM329 547h4v1h-4zM833 421h4v1h-4zM317 550h4v1h-4zM691 458h3v1h-3zM821 424h4v1h-4zM305 553h4v1h-4zM642 475h3v1h-3zM492 508h4v1h-4zM632 478h3v1h-3zM740 443h4v1h-4zM620 481h4v1h-4zM805 428h4v1h-4zM677 463h3v1h-3zM608 484h4v1h-4zM723 448h3v1h-3zM454 517h4v1h-4zM353 541h4v1h-4zM712 451h4v1h-4zM443 520h4v1h-4zM341 544h4v1h-4zM558 496h4v1h-4zM969 405h8v1h-8zM393 532h4v1h-4zM658 470h2v1h-2zM571 493h4v1h-4zM669 466h3v1h-3zM663 468h3v1h-3zM703 454h2v1h-2zM337 545h4v1h-4zM697 456h3v1h-3z"/>
<path fill="#ff00ff" d="M153 489h6v1h-6zM557 299h2v1h-2zM990 299h3v1h-3zM264 459h2v1h-2zM1283 459h3v1h-3zM1517 459h40v1h-40zM1599 459h9v1h-9zM268 457h2v1h-2zM1278 457h2v1h-2zM1616 457h15v1h-15zM584 285h2v1h-2zM952 285h2v1h-2zM678 237h2v1h-2zM853 237h4v1h-4zM690 231h3v1h-3zM820 231h9v1h-9zM319 431h3v1h-3zM1207 431h3v1h-3zM240 471h2v1h-2zM1324 471h19v1h-19zM1374 471h28v1h-28zM542 306h3v1h-3zM1009 306h1v1h-1zM651 252h2v1h-2zM889 252h2v1h-2zM19 503h16v1h-16zM367 406h1v1h-1zM1154 406h1v1h-1zM445 362h2v1h-2zM1098 362h2v1h-2zM383 398h2v1h-2zM1142 398h1v1h-1zM328 427h2v1h-2zM1198 427h2v1h-2zM724 221h8v1h-8zM742 221h31v1h-31zM180 484h7v1h-7zM650 253h1v1h-1zM891 253h2v1h-2zM242 470h2v1h-2zM1317 470h7v1h-7zM1343 470h31v1h-31zM1402 470h20v1h-20zM531 310h3v1h-3zM1015 310h2v1h-2zM262 460h2v1h-2zM1286 460h3v1h-3zM1508 460h9v1h-9zM1557 460h42v1h-42zM431 372h1v1h-1zM1110 372h1v1h-1zM250 466h3v1h-3zM1303 466h2v1h-2zM1467 466h5v1h-5zM270 456h1v1h-1zM1275 456h3v1h-3zM1631 456h12v1h-12zM693 230h2v1h-2zM810 230h10v1h-10zM658 248h2v1h-2zM882 248h2v1h-2zM159 488h5v1h-5zM665 244h2v1h-2zM874 244h2v1h-2zM418 379h2v1h-2zM1119 379h1v1h-1zM476 340h2v1h-2zM1069 340h1v1h-1zM673 240h2v1h-2zM865 240h4v1h-4zM244 469h2v1h-2zM1311 469h6v1h-6zM1422 469h34v1h-34zM529 311h2v1h-2zM1017 311h2v1h-2zM549 303h2v1h-2zM1001 303h3v1h-3zM248 467h2v1h-2zM1305 467h3v1h-3zM1461 467h6v1h-6zM285 448h2v1h-2zM1255 448h2v1h-2zM703 225h2v1h-2zM782 225h3v1h-3zM604 276h3v1h-3zM934 276h2v1h-2zM414 381h2v1h-2zM1122 381h1v1h-1zM555 300h2v1h-2zM993 300h3v1h-3zM401 388h2v1h-2zM1131 388h1v1h-1zM291 445h1v1h-1zM1247 445h3v1h-3zM609 274h2v1h-2zM930 274h2v1h-2zM680 236h2v1h-2zM849 236h4v1h-4zM482 336h1v1h-1zM1062 336h2v1h-2zM688 232h2v1h-2zM829 232h8v1h-8zM68 500h13v1h-13zM3 504h16v1h-16zM656 249h2v1h-2zM884 249h2v1h-2zM271 455h2v1h-2zM1273 455h2v1h-2zM1643 455h10v1h-10zM676 238h2v1h-2zM857 238h4v1h-4zM591 281h2v1h-2zM944 281h2v1h-2zM275 453h2v1h-2zM1268 453h2v1h-2zM1660 453h6v1h-6zM580 287h2v1h-2zM956 287h2v1h-2zM601 277h3v1h-3zM936 277h2v1h-2zM432 371h2v1h-2zM1109 371h1v1h-1zM416 380h2v1h-2zM1120 380h2v1h-2zM35 502h16v1h-16zM494 328h2v1h-2zM1049 328h1v1h-1zM174 485h6v1h-6zM537 308h2v1h-2zM1012 308h2v1h-2zM599 278h2v1h-2zM938 278h2v1h-2zM378 400h2v1h-2zM1145 400h1v1h-1zM324 429h2v1h-2zM1202 429h3v1h-3zM273 454h2v1h-2zM1270 454h3v1h-3zM1653 454h7v1h-7zM480 337h2v1h-2zM1064 337h2v1h-2zM283 449h2v1h-2zM1257 449h3v1h-3zM574 290h2v1h-2zM963 290h3v1h-3zM710 223h7v1h-7zM776 223h3v1h-3zM697 228h2v1h-2zM795 228h8v1h-8zM311 435h2v1h-2zM1217 435h4v1h-4zM146 490h7v1h-7zM255 464h2v1h-2zM1297 464h3v1h-3zM1477 464h7v1h-7zM317 432h2v1h-2zM1210 432h2v1h-2zM682 235h2v1h-2zM845 235h4v1h-4zM705 224h5v1h-5zM779 224h3v1h-3zM717 222h7v1h-7zM773 222h3v1h-3zM663 245h2v1h-2zM876 245h2v1h-2zM398 390h2v1h-2zM1133 390h2v1h-2zM660 247h2v1h-2zM880 247h2v1h-2zM277 452h2v1h-2zM1265 452h3v1h-3zM339 421h2v1h-2zM1183 421h2v1h-2zM103 496h7v1h-7zM479 338h1v1h-1zM1066 338h1v1h-1zM576 289h2v1h-2zM961 289h2v1h-2zM618 270h2v1h-2zM922 270h1v1h-1zM626 266h2v1h-2zM914 266h1v1h-1zM671 241h2v1h-2zM869 241h2v1h-2zM486 333h2v1h-2zM1057 333h2v1h-2zM456 354h2v1h-2zM1088 354h2v1h-2zM548 304h1v1h-1zM1004 304h3v1h-3zM491 330h1v1h-1zM1052 330h2v1h-2zM223 476h3v1h-3zM624 267h2v1h-2zM915 267h2v1h-2zM257 463h2v1h-2zM1295 463h2v1h-2zM1484 463h8v1h-8zM429 373h2v1h-2zM1111 373h2v1h-2zM374 402h2v1h-2zM1147 402h2v1h-2zM464 349h1v1h-1zM1081 349h2v1h-2zM51 501h17v1h-17zM88 498h8v1h-8zM441 365h1v1h-1zM1102 365h1v1h-1zM634 262h2v1h-2zM907 262h1v1h-1zM492 329h2v1h-2zM1050 329h2v1h-2zM539 307h3v1h-3zM1010 307h2v1h-2zM370 404h2v1h-2zM1150 404h2v1h-2zM396 391h2v1h-2zM1135 391h1v1h-1zM230 474h3v1h-3zM212 479h4v1h-4zM422 377h2v1h-2zM1116 377h2v1h-2zM96 497h7v1h-7zM505 322h2v1h-2zM1038 322h2v1h-2zM110 495h8v1h-8zM237 472h3v1h-3zM335 423h2v1h-2zM1188 423h2v1h-2zM219 477h4v1h-4zM266 458h2v1h-2zM1280 458h3v1h-3zM1608 458h8v1h-8zM302 439h2v1h-2zM1231 439h3v1h-3zM261 461h1v1h-1zM1289 461h3v1h-3zM1499 461h9v1h-9zM524 313h3v1h-3zM1021 313h1v1h-1zM675 239h1v1h-1zM861 239h4v1h-4zM534 309h3v1h-3zM1014 309h1v1h-1zM118 494h6v1h-6zM226 475h4v1h-4zM259 462h2v1h-2zM1292 462h3v1h-3zM1492 462h7v1h-7zM207 480h5v1h-5zM473 342h2v1h-2zM1071 342h2v1h-2zM732 220h10v1h-10zM639 259h2v1h-2zM901 259h2v1h-2zM346 417h2v1h-2zM1174 417h2v1h-2zM353 413h2v1h-2zM1166 413h2v1h-2zM344 418h2v1h-2zM1176 418h2v1h-2zM499 325h2v1h-2zM1044 325h2v1h-2zM351 414h2v1h-2zM1168 414h2v1h-2zM507 321h2v1h-2zM1035 321h3v1h-3zM359 410h2v1h-2zM1160 410h2v1h-2zM501 324h2v1h-2zM1042 324h2v1h-2zM596 279h3v1h-3zM940 279h2v1h-2zM331 425h2v1h-2zM1193 425h2v1h-2zM647 255h2v1h-2zM894 255h2v1h-2zM408 384h2v1h-2zM1126 384h1v1h-1zM124 493h7v1h-7zM513 318h2v1h-2zM1029 318h2v1h-2zM403 387h1v1h-1zM1129 387h2v1h-2zM551 302h2v1h-2zM999 302h2v1h-2zM337 422h2v1h-2zM1185 422h3v1h-3zM686 233h2v1h-2zM837 233h4v1h-4zM404 386h2v1h-2zM1128 386h1v1h-1zM350 415h1v1h-1zM1170 415h2v1h-2zM253 465h2v1h-2zM1300 465h3v1h-3zM1472 465h5v1h-5zM485 334h1v1h-1zM1059 334h2v1h-2zM667 243h1v1h-1zM872 243h2v1h-2zM613 272h2v1h-2zM925 272h2v1h-2zM462 350h2v1h-2zM1083 350h1v1h-1zM315 433h2v1h-2zM1212 433h3v1h-3zM559 298h2v1h-2zM987 298h3v1h-3zM294 443h2v1h-2zM1242 443h3v1h-3zM322 430h2v1h-2zM1205 430h2v1h-2zM368 405h2v1h-2zM1152 405h2v1h-2zM300 440h2v1h-2zM1234 440h3v1h-3zM699 227h2v1h-2zM788 227h7v1h-7zM447 361h1v1h-1zM1097 361h1v1h-1zM459 352h2v1h-2zM1085 352h2v1h-2zM521 314h3v1h-3zM1022 314h2v1h-2zM139 491h7v1h-7zM516 316h3v1h-3zM1026 316h1v1h-1zM388 396h2v1h-2zM1140 396h1v1h-1zM478 339h1v1h-1zM1067 339h2v1h-2zM695 229h2v1h-2zM803 229h7v1h-7zM131 492h8v1h-8zM578 288h2v1h-2zM958 288h3v1h-3zM586 284h1v1h-1zM950 284h2v1h-2zM593 280h3v1h-3zM942 280h2v1h-2zM304 438h2v1h-2zM1227 438h4v1h-4zM292 444h2v1h-2zM1245 444h2v1h-2zM365 407h2v1h-2zM1155 407h2v1h-2zM330 426h1v1h-1zM1195 426h3v1h-3zM393 393h2v1h-2zM1137 393h1v1h-1zM684 234h2v1h-2zM841 234h4v1h-4zM615 271h3v1h-3zM923 271h2v1h-2zM313 434h2v1h-2zM1215 434h2v1h-2zM611 273h2v1h-2zM927 273h3v1h-3zM701 226h2v1h-2zM785 226h3v1h-3zM81 499h7v1h-7zM489 331h2v1h-2zM1054 331h1v1h-1zM620 269h2v1h-2zM919 269h3v1h-3zM628 265h2v1h-2zM912 265h2v1h-2zM488 332h1v1h-1zM1055 332h2v1h-2zM361 409h2v1h-2zM1158 409h2v1h-2zM169 486h5v1h-5zM380 399h3v1h-3zM1143 399h2v1h-2zM357 411h2v1h-2zM1162 411h2v1h-2zM468 346h1v1h-1zM1077 346h1v1h-1zM569 293h2v1h-2zM972 293h2v1h-2zM279 451h2v1h-2zM1263 451h2v1h-2zM643 257h2v1h-2zM898 257h2v1h-2zM164 487h5v1h-5zM649 254h1v1h-1zM893 254h1v1h-1zM436 368h2v1h-2zM1106 368h1v1h-1zM607 275h2v1h-2zM932 275h2v1h-2zM469 345h2v1h-2zM1076 345h1v1h-1zM298 441h2v1h-2zM1237 441h3v1h-3zM395 392h1v1h-1zM1136 392h1v1h-1zM435 369h1v1h-1zM1107 369h1v1h-1zM341 420h2v1h-2zM1180 420h3v1h-3zM453 356h2v1h-2zM1091 356h1v1h-1zM641 258h2v1h-2zM900 258h1v1h-1zM465 348h1v1h-1zM1080 348h1v1h-1zM515 317h1v1h-1zM1027 317h2v1h-2zM426 375h2v1h-2zM1114 375h1v1h-1zM622 268h2v1h-2zM917 268h2v1h-2zM333 424h2v1h-2zM1190 424h3v1h-3zM194 482h7v1h-7zM645 256h2v1h-2zM896 256h2v1h-2zM391 394h2v1h-2zM1138 394h1v1h-1zM201 481h6v1h-6zM442 364h2v1h-2zM1101 364h1v1h-1zM428 374h1v1h-1zM1113 374h1v1h-1zM439 366h2v1h-2zM1103 366h1v1h-1zM216 478h3v1h-3zM653 251h2v1h-2zM888 251h1v1h-1zM637 260h2v1h-2zM903 260h2v1h-2zM309 436h2v1h-2zM1221 436h3v1h-3zM573 291h1v1h-1zM966 291h3v1h-3zM571 292h2v1h-2zM969 292h3v1h-3zM424 376h2v1h-2zM1115 376h1v1h-1zM471 344h1v1h-1zM1074 344h2v1h-2zM434 370h1v1h-1zM1108 370h1v1h-1zM448 360h1v1h-1zM1096 360h1v1h-1zM589 282h2v1h-2zM946 282h2v1h-2zM287 447h2v1h-2zM1252 447h3v1h-3zM246 468h2v1h-2zM1308 468h3v1h-3zM1456 468h5v1h-5zM343 419h1v1h-1zM1178 419h2v1h-2zM372 403h2v1h-2zM1149 403h1v1h-1zM385 397h3v1h-3zM1141 397h1v1h-1zM567 294h2v1h-2zM974 294h3v1h-3zM420 378h2v1h-2zM1118 378h1v1h-1zM563 296h2v1h-2zM980 296h4v1h-4zM668 242h3v1h-3zM871 242h1v1h-1zM306 437h3v1h-3zM1224 437h3v1h-3zM582 286h2v1h-2zM954 286h2v1h-2zM452 357h1v1h-1zM1092 357h2v1h-2zM509 320h2v1h-2zM1033 320h2v1h-2zM438 367h1v1h-1zM1104 367h2v1h-2zM326 428h2v1h-2zM1200 428h2v1h-2zM296 442h2v1h-2zM1240 442h2v1h-2zM636 261h1v1h-1zM905 261h2v1h-2zM412 382h2v1h-2zM1123 382h1v1h-1zM565 295h2v1h-2zM977 295h3v1h-3zM376 401h2v1h-2zM1146 401h1v1h-1zM363 408h2v1h-2zM1157 408h1v1h-1zM475 341h1v1h-1zM1070 341h1v1h-1zM511 319h2v1h-2zM1031 319h2v1h-2zM561 297h2v1h-2zM984 297h3v1h-3zM662 246h1v1h-1zM878 246h2v1h-2zM187 483h7v1h-7zM233 473h4v1h-4zM450 358h2v1h-2zM1094 358h1v1h-1zM527 312h2v1h-2zM1019 312h2v1h-2zM655 250h1v1h-1zM886 250h2v1h-2zM461 351h1v1h-1zM1084 351h1v1h-1zM410 383h2v1h-2zM1124 383h2v1h-2zM587 283h2v1h-2zM948 283h2v1h-2zM355 412h2v1h-2zM1164 412h2v1h-2zM553 301h2v1h-2zM996 301h3v1h-3zM503 323h2v1h-2zM1040 323h2v1h-2zM466 347h2v1h-2zM1078 347h2v1h-2zM545 305h3v1h-3zM1007 305h2v1h-2zM281 450h2v1h-2zM1260 450h3v1h-3zM483 335h2v1h-2zM1061 335h1v1h-1zM406 385h2v1h-2zM1127 385h1v1h-1zM390 395h1v1h-1zM1139 395h1v1h-1zM348 416h2v1h-2zM1172 416h2v1h-2zM630 264h2v1h-2zM910 264h2v1h-2zM289 446h2v1h-2zM1250 446h2v1h-2zM2 505h1v1h-1zM632 263h2v1h-2zM908 263h2v1h-2zM400 389h1v1h-1zM1132 389h1v1h-1zM519 315h2v1h-2zM1024 315h2v1h-2zM455 355h1v1h-1zM1090 355h1v1h-1zM444 363h1v1h-1zM1100 363h1v1h-1zM449 359h1v1h-1zM1095 359h1v1h-1zM498 326h1v1h-1zM1046 326h1v1h-1zM496 327h2v1h-2zM1047 327h2v1h-2zM472 343h1v1h-1zM1073 343h1v1h-1zM458 353h1v1h-1zM1087 353h1v1h-1z"/>
<path fill="#ffa500" d="M480 228h3v1h-3zM502 228h3v1h-3zM682 228h1v1h-1zM835 228h1v1h-1zM405 251h1v1h-1zM624 251h12v1h-12zM646 251h4v1h-4zM852 251h1v1h-1zM80 494h7v1h-7zM133 494h8v1h-8zM438 239h2v1h-2zM532 239h3v1h-3zM669 239h1v1h-1zM843 239h1v1h-1zM227 454h1v1h-1zM1032 454h2v1h-2zM1254 454h11v1h-11zM1470 454h1v1h-1zM1575 454h3v1h-3zM1602 454h2v1h-2zM218 460h1v1h-1zM1046 460h3v1h-3zM1233 460h3v1h-3zM1291 460h3v1h-3zM1459 460h3v1h-3zM704 206h1v1h-1zM810 206h1v1h-1zM4 477h5v1h-5zM182 477h3v1h-3zM1100 477h4v1h-4zM1184 477h3v1h-3zM1359 477h7v1h-7zM1405 477h3v1h-3zM313 357h1v1h-1zM921 357h1v1h-1zM13 479h5v1h-5zM178 479h2v1h-2zM1107 479h4v1h-4zM1122 479h19v1h-19zM1179 479h3v1h-3zM418 245h3v1h-3zM553 245h4v1h-4zM661 245h2v1h-2zM847 245h1v1h-1zM73 493h7v1h-7zM141 493h4v1h-4zM296 379h1v1h-1zM941 379h2v1h-2zM47 488h4v1h-4zM160 488h2v1h-2zM240 445h1v1h-1zM1021 445h1v1h-1zM1483 445h1v1h-1zM1537 445h4v1h-4zM1635 445h8v1h-8zM295 380h1v1h-1zM943 380h1v1h-1zM361 290h1v1h-1zM876 290h1v1h-1zM701 209h1v1h-1zM814 209h1v1h-1zM222 457h2v1h-2zM1037 457h3v1h-3zM1243 457h3v1h-3zM1277 457h5v1h-5zM1466 457h1v1h-1zM1583 457h3v1h-3zM1589 457h6v1h-6zM308 363h1v1h-1zM926 363h1v1h-1zM406 250h2v1h-2zM615 250h9v1h-9zM650 250h3v1h-3zM851 250h1v1h-1zM208 465h3v1h-3zM1066 465h5v1h-5zM1219 465h3v1h-3zM1307 465h3v1h-3zM1445 465h3v1h-3zM18 480h3v1h-3zM176 480h2v1h-2zM1111 480h11v1h-11zM1141 480h6v1h-6zM1177 480h2v1h-2zM397 256h2v1h-2zM855 256h1v1h-1zM233 450h2v1h-2zM1026 450h2v1h-2zM1476 450h1v1h-1zM1557 450h5v1h-5zM1613 450h3v1h-3zM206 466h2v1h-2zM1071 466h4v1h-4zM1217 466h2v1h-2zM1310 466h2v1h-2zM1441 466h4v1h-4zM9 478h4v1h-4zM180 478h2v1h-2zM1104 478h3v1h-3zM1182 478h2v1h-2zM1366 478h39v1h-39zM734 186h3v1h-3zM749 186h3v1h-3zM768 186h5v1h-5zM220 458h2v1h-2zM1040 458h3v1h-3zM1239 458h4v1h-4zM1282 458h5v1h-5zM1464 458h2v1h-2zM1586 458h3v1h-3zM59 491h7v1h-7zM149 491h5v1h-5zM324 343h1v1h-1zM909 343h1v1h-1zM415 246h3v1h-3zM557 246h5v1h-5zM660 246h1v1h-1zM848 246h1v1h-1zM212 463h2v1h-2zM1056 463h5v1h-5zM1224 463h3v1h-3zM1301 463h3v1h-3zM1451 463h3v1h-3zM193 472h2v1h-2zM1090 472h2v1h-2zM1199 472h3v1h-3zM1330 472h4v1h-4zM1418 472h4v1h-4zM39 486h4v1h-4zM164 486h2v1h-2zM336 327h1v1h-1zM898 327h1v1h-1zM198 470h2v1h-2zM1087 470h2v1h-2zM1206 470h3v1h-3zM1322 470h4v1h-4zM1426 470h3v1h-3zM232 451h1v1h-1zM1028 451h1v1h-1zM1474 451h2v1h-2zM1562 451h5v1h-5zM1610 451h3v1h-3zM25 482h3v1h-3zM172 482h2v1h-2zM1153 482h21v1h-21zM245 441h1v1h-1zM1016 441h1v1h-1zM1489 441h2v1h-2zM1523 441h4v1h-4zM1661 441h4v1h-4zM332 333h1v1h-1zM902 333h1v1h-1zM412 247h3v1h-3zM562 247h5v1h-5zM576 247h21v1h-21zM659 247h1v1h-1zM849 247h1v1h-1zM228 453h2v1h-2zM1031 453h1v1h-1zM1471 453h2v1h-2zM1572 453h3v1h-3zM1604 453h3v1h-3zM87 495h46v1h-46zM380 271h1v1h-1zM865 271h1v1h-1zM470 231h4v1h-4zM511 231h3v1h-3zM679 231h1v1h-1zM838 231h1v1h-1zM246 440h1v1h-1zM1015 440h1v1h-1zM1491 440h32v1h-32zM1665 440h1v1h-1zM270 417h1v1h-1zM985 417h2v1h-2zM225 455h2v1h-2zM1034 455h1v1h-1zM1250 455h4v1h-4zM1265 455h7v1h-7zM1469 455h1v1h-1zM1578 455h2v1h-2zM1599 455h3v1h-3zM299 375h1v1h-1zM937 375h1v1h-1zM317 352h1v1h-1zM916 352h1v1h-1zM251 435h1v1h-1zM1007 435h2v1h-2zM477 229h3v1h-3zM505 229h4v1h-4zM682 229h1v1h-1zM836 229h1v1h-1zM224 456h1v1h-1zM1035 456h2v1h-2zM1246 456h4v1h-4zM1272 456h5v1h-5zM1467 456h2v1h-2zM1580 456h3v1h-3zM1595 456h4v1h-4zM298 376h1v1h-1zM938 376h1v1h-1zM292 385h1v1h-1zM949 385h2v1h-2zM250 436h1v1h-1zM1009 436h2v1h-2zM235 449h2v1h-2zM1025 449h1v1h-1zM1477 449h1v1h-1zM1552 449h5v1h-5zM1616 449h3v1h-3zM66 492h7v1h-7zM145 492h4v1h-4zM454 234h7v1h-7zM519 234h2v1h-2zM675 234h1v1h-1zM840 234h1v1h-1zM200 469h2v1h-2zM1083 469h4v1h-4zM1209 469h3v1h-3zM1318 469h4v1h-4zM1429 469h4v1h-4zM307 365h1v1h-1zM928 365h1v1h-1zM204 467h2v1h-2zM1075 467h4v1h-4zM1214 467h3v1h-3zM1312 467h3v1h-3zM1437 467h4v1h-4zM731 187h3v1h-3zM752 187h16v1h-16zM773 187h2v1h-2zM21 481h4v1h-4zM174 481h2v1h-2zM1147 481h6v1h-6zM1174 481h3v1h-3zM350 306h1v1h-1zM886 306h1v1h-1zM355 298h1v1h-1zM880 298h1v1h-1zM375 276h2v1h-2zM868 276h1v1h-1zM287 392h1v1h-1zM957 392h1v1h-1zM345 313h1v1h-1zM890 313h1v1h-1zM195 471h3v1h-3zM1089 471h1v1h-1zM1202 471h4v1h-4zM1326 471h4v1h-4zM1422 471h4v1h-4zM252 434h1v1h-1zM1006 434h1v1h-1zM424 243h3v1h-3zM545 243h3v1h-3zM664 243h1v1h-1zM846 243h1v1h-1zM349 307h1v1h-1zM887 307h1v1h-1zM43 487h4v1h-4zM162 487h2v1h-2zM283 399h1v1h-1zM964 399h1v1h-1zM189 474h2v1h-2zM1094 474h1v1h-1zM1192 474h3v1h-3zM1339 474h6v1h-6zM1413 474h3v1h-3zM243 442h2v1h-2zM1017 442h1v1h-1zM1487 442h2v1h-2zM1527 442h3v1h-3zM1657 442h4v1h-4zM346 311h1v1h-1zM889 311h1v1h-1zM295 381h1v1h-1zM944 381h1v1h-1zM263 423h2v1h-2zM992 423h2v1h-2zM434 240h4v1h-4zM535 240h3v1h-3zM668 240h1v1h-1zM844 240h1v1h-1zM2 476h2v1h-2zM185 476h2v1h-2zM1097 476h3v1h-3zM1187 476h2v1h-2zM1352 476h7v1h-7zM1408 476h3v1h-3zM382 269h1v1h-1zM863 269h1v1h-1zM294 382h1v1h-1zM945 382h2v1h-2zM408 249h1v1h-1zM607 249h8v1h-8zM653 249h4v1h-4zM850 249h1v1h-1zM276 409h1v1h-1zM975 409h1v1h-1zM377 275h1v1h-1zM867 275h1v1h-1zM237 448h1v1h-1zM1024 448h1v1h-1zM1478 448h2v1h-2zM1548 448h4v1h-4zM1619 448h3v1h-3zM271 415h1v1h-1zM983 415h1v1h-1zM230 452h2v1h-2zM1029 452h2v1h-2zM1473 452h1v1h-1zM1567 452h5v1h-5zM1607 452h3v1h-3zM286 394h1v1h-1zM959 394h1v1h-1zM338 323h1v1h-1zM896 323h1v1h-1zM440 238h2v1h-2zM529 238h3v1h-3zM670 238h1v1h-1zM842 238h1v1h-1zM36 485h3v1h-3zM166 485h2v1h-2zM219 459h1v1h-1zM1043 459h3v1h-3zM1236 459h3v1h-3zM1287 459h4v1h-4zM1462 459h2v1h-2zM320 349h1v1h-1zM914 349h1v1h-1zM282 401h1v1h-1zM966 401h1v1h-1zM402 253h1v1h-1zM853 253h1v1h-1zM211 464h1v1h-1zM1061 464h5v1h-5zM1222 464h2v1h-2zM1304 464h3v1h-3zM1448 464h3v1h-3zM275 410h1v1h-1zM976 410h2v1h-2zM268 419h1v1h-1zM988 419h1v1h-1zM725 190h2v1h-2zM780 190h2v1h-2zM483 227h4v1h-4zM499 227h3v1h-3zM683 227h1v1h-1zM834 227h1v1h-1zM241 444h1v1h-1zM1019 444h2v1h-2zM1484 444h2v1h-2zM1534 444h3v1h-3zM1643 444h10v1h-10zM348 309h1v1h-1zM888 309h1v1h-1zM358 295h1v1h-1zM878 295h1v1h-1zM347 310h1v1h-1zM889 310h1v1h-1zM727 189h2v1h-2zM777 189h3v1h-3zM248 438h1v1h-1zM1013 438h1v1h-1zM238 447h1v1h-1zM1023 447h1v1h-1zM1480 447h2v1h-2zM1545 447h3v1h-3zM1622 447h5v1h-5zM247 439h1v1h-1zM1014 439h1v1h-1zM723 191h2v1h-2zM782 191h2v1h-2zM304 369h1v1h-1zM932 369h1v1h-1zM409 248h3v1h-3zM567 248h9v1h-9zM597 248h10v1h-10zM657 248h2v1h-2zM849 248h1v1h-1zM270 416h1v1h-1zM984 416h1v1h-1zM261 425h1v1h-1zM995 425h1v1h-1zM394 258h2v1h-2zM856 258h1v1h-1zM697 213h1v1h-1zM818 213h2v1h-2zM474 230h3v1h-3zM509 230h2v1h-2zM680 230h2v1h-2zM837 230h1v1h-1zM301 372h1v1h-1zM935 372h1v1h-1zM51 489h4v1h-4zM158 489h2v1h-2zM368 282h1v1h-1zM871 282h1v1h-1zM216 461h2v1h-2zM1049 461h3v1h-3zM1229 461h4v1h-4zM1294 461h4v1h-4zM1456 461h3v1h-3zM445 236h3v1h-3zM524 236h2v1h-2zM672 236h2v1h-2zM841 236h1v1h-1zM399 255h1v1h-1zM854 255h1v1h-1zM709 202h1v1h-1zM804 202h2v1h-2zM242 443h1v1h-1zM1018 443h1v1h-1zM1486 443h1v1h-1zM1530 443h4v1h-4zM1653 443h4v1h-4zM312 358h1v1h-1zM921 358h1v1h-1zM255 431h1v1h-1zM1001 431h1v1h-1zM273 412h1v1h-1zM979 412h1v1h-1zM254 432h1v1h-1zM1002 432h2v1h-2zM403 252h2v1h-2zM636 252h10v1h-10zM852 252h1v1h-1zM265 422h1v1h-1zM991 422h1v1h-1zM487 226h12v1h-12zM684 226h1v1h-1zM833 226h1v1h-1zM359 293h1v1h-1zM877 293h1v1h-1zM202 468h2v1h-2zM1079 468h4v1h-4zM1212 468h2v1h-2zM1315 468h3v1h-3zM1433 468h4v1h-4zM421 244h3v1h-3zM548 244h5v1h-5zM663 244h1v1h-1zM846 244h1v1h-1zM356 297h1v1h-1zM880 297h1v1h-1zM191 473h2v1h-2zM1092 473h2v1h-2zM1195 473h4v1h-4zM1334 473h5v1h-5zM1416 473h2v1h-2zM351 304h1v1h-1zM884 304h1v1h-1zM300 374h1v1h-1zM936 374h1v1h-1zM442 237h3v1h-3zM526 237h3v1h-3zM671 237h1v1h-1zM842 237h1v1h-1zM287 391h1v1h-1zM956 391h1v1h-1zM371 279h2v1h-2zM869 279h1v1h-1zM276 408h1v1h-1zM974 408h1v1h-1zM374 277h1v1h-1zM868 277h1v1h-1zM705 205h1v1h-1zM809 205h1v1h-1zM737 185h12v1h-12zM461 233h7v1h-7zM516 233h3v1h-3zM676 233h2v1h-2zM839 233h1v1h-1zM714 197h2v1h-2zM795 197h2v1h-2zM28 483h4v1h-4zM170 483h2v1h-2zM316 354h1v1h-1zM918 354h1v1h-1zM386 264h1v1h-1zM860 264h1v1h-1zM315 355h1v1h-1zM919 355h1v1h-1zM381 270h1v1h-1zM864 270h1v1h-1zM362 289h1v1h-1zM875 289h1v1h-1zM358 294h1v1h-1zM878 294h1v1h-1zM448 235h6v1h-6zM521 235h3v1h-3zM674 235h1v1h-1zM840 235h1v1h-1zM712 199h1v1h-1zM798 199h2v1h-2zM690 220h1v1h-1zM826 220h2v1h-2zM334 329h1v1h-1zM899 329h1v1h-1zM333 331h1v1h-1zM900 331h1v1h-1zM214 462h2v1h-2zM1052 462h4v1h-4zM1227 462h2v1h-2zM1298 462h3v1h-3zM1454 462h2v1h-2zM702 208h1v1h-1zM813 208h1v1h-1zM330 336h1v1h-1zM904 336h1v1h-1zM325 342h1v1h-1zM908 342h1v1h-1zM187 475h2v1h-2zM1095 475h2v1h-2zM1189 475h3v1h-3zM1345 475h7v1h-7zM1411 475h2v1h-2zM269 418h1v1h-1zM987 418h1v1h-1zM342 317h1v1h-1zM892 317h1v1h-1zM302 371h1v1h-1zM934 371h1v1h-1zM297 378h1v1h-1zM940 378h1v1h-1zM468 232h2v1h-2zM514 232h2v1h-2zM678 232h1v1h-1zM838 232h1v1h-1zM430 241h4v1h-4zM538 241h4v1h-4zM666 241h2v1h-2zM844 241h1v1h-1zM360 292h1v1h-1zM877 292h1v1h-1zM324 344h1v1h-1zM910 344h1v1h-1zM305 367h1v1h-1zM930 367h1v1h-1zM335 328h1v1h-1zM898 328h1v1h-1zM331 334h1v1h-1zM902 334h1v1h-1zM708 203h1v1h-1zM806 203h2v1h-2zM320 348h1v1h-1zM913 348h1v1h-1zM373 278h1v1h-1zM869 278h1v1h-1zM258 428h1v1h-1zM998 428h1v1h-1zM257 429h1v1h-1zM999 429h1v1h-1zM710 201h1v1h-1zM802 201h2v1h-2zM348 308h1v1h-1zM887 308h1v1h-1zM344 314h1v1h-1zM891 314h1v1h-1zM280 403h1v1h-1zM968 403h1v1h-1zM311 360h1v1h-1zM923 360h1v1h-1zM239 446h1v1h-1zM1022 446h1v1h-1zM1482 446h1v1h-1zM1541 446h4v1h-4zM1627 446h8v1h-8zM249 437h1v1h-1zM1011 437h2v1h-2zM253 433h1v1h-1zM1004 433h2v1h-2zM343 315h1v1h-1zM891 315h1v1h-1zM339 321h1v1h-1zM894 321h1v1h-1zM334 330h1v1h-1zM900 330h1v1h-1zM385 265h1v1h-1zM861 265h1v1h-1zM318 351h1v1h-1zM915 351h1v1h-1zM330 335h1v1h-1zM903 335h1v1h-1zM292 384h1v1h-1zM948 384h1v1h-1zM279 405h1v1h-1zM970 405h2v1h-2zM256 430h1v1h-1zM1000 430h1v1h-1zM274 411h1v1h-1zM978 411h1v1h-1zM343 316h1v1h-1zM892 316h1v1h-1zM703 207h1v1h-1zM811 207h2v1h-2zM338 324h1v1h-1zM896 324h1v1h-1zM695 216h1v1h-1zM822 216h1v1h-1zM686 224h1v1h-1zM831 224h1v1h-1zM289 389h1v1h-1zM954 389h1v1h-1zM329 337h1v1h-1zM905 337h1v1h-1zM288 390h1v1h-1zM955 390h1v1h-1zM698 212h1v1h-1zM817 212h1v1h-1zM400 254h2v1h-2zM854 254h1v1h-1zM693 218h1v1h-1zM824 218h1v1h-1zM306 366h1v1h-1zM929 366h1v1h-1zM706 204h2v1h-2zM808 204h1v1h-1zM711 200h1v1h-1zM800 200h2v1h-2zM301 373h1v1h-1zM936 373h1v1h-1zM317 353h1v1h-1zM917 353h1v1h-1zM365 285h1v1h-1zM873 285h1v1h-1zM285 396h1v1h-1zM961 396h1v1h-1zM298 377h1v1h-1zM939 377h1v1h-1zM716 196h1v1h-1zM793 196h2v1h-2zM289 388h1v1h-1zM953 388h1v1h-1zM700 210h1v1h-1zM815 210h1v1h-1zM720 193h2v1h-2zM787 193h2v1h-2zM285 395h1v1h-1zM960 395h1v1h-1zM387 263h2v1h-2zM860 263h1v1h-1zM719 194h1v1h-1zM789 194h2v1h-2zM32 484h4v1h-4zM168 484h2v1h-2zM379 272h1v1h-1zM865 272h1v1h-1zM284 398h1v1h-1zM963 398h1v1h-1zM688 222h1v1h-1zM829 222h1v1h-1zM393 259h1v1h-1zM857 259h1v1h-1zM391 260h2v1h-2zM858 260h1v1h-1zM722 192h1v1h-1zM784 192h3v1h-3zM314 356h1v1h-1zM920 356h1v1h-1zM260 426h1v1h-1zM996 426h1v1h-1zM378 274h1v1h-1zM866 274h1v1h-1zM357 296h1v1h-1zM879 296h1v1h-1zM695 215h1v1h-1zM821 215h1v1h-1zM267 420h1v1h-1zM989 420h1v1h-1zM311 359h1v1h-1zM922 359h1v1h-1zM699 211h1v1h-1zM816 211h1v1h-1zM427 242h3v1h-3zM542 242h3v1h-3zM665 242h1v1h-1zM845 242h1v1h-1zM322 346h1v1h-1zM911 346h1v1h-1zM694 217h1v1h-1zM823 217h1v1h-1zM341 319h1v1h-1zM893 319h1v1h-1zM396 257h1v1h-1zM856 257h1v1h-1zM389 262h1v1h-1zM859 262h1v1h-1zM729 188h2v1h-2zM775 188h2v1h-2zM291 386h1v1h-1zM951 386h1v1h-1zM361 291h1v1h-1zM876 291h1v1h-1zM354 299h1v1h-1zM881 299h1v1h-1zM350 305h1v1h-1zM885 305h1v1h-1zM713 198h1v1h-1zM797 198h1v1h-1zM364 286h1v1h-1zM873 286h1v1h-1zM293 383h1v1h-1zM947 383h1v1h-1zM284 397h1v1h-1zM962 397h1v1h-1zM352 302h1v1h-1zM883 302h1v1h-1zM280 404h1v1h-1zM969 404h1v1h-1zM310 361h1v1h-1zM924 361h1v1h-1zM378 273h1v1h-1zM866 273h1v1h-1zM339 322h1v1h-1zM895 322h1v1h-1zM689 221h1v1h-1zM828 221h1v1h-1zM717 195h2v1h-2zM791 195h2v1h-2zM687 223h1v1h-1zM830 223h1v1h-1zM332 332h1v1h-1zM901 332h1v1h-1zM272 414h1v1h-1zM981 414h2v1h-2zM55 490h4v1h-4zM154 490h4v1h-4zM323 345h1v1h-1zM910 345h1v1h-1zM341 318h1v1h-1zM893 318h1v1h-1zM691 219h2v1h-2zM825 219h1v1h-1zM366 284h1v1h-1zM872 284h1v1h-1zM326 341h1v1h-1zM908 341h1v1h-1zM290 387h1v1h-1zM952 387h1v1h-1zM354 300h1v1h-1zM882 300h1v1h-1zM327 340h1v1h-1zM907 340h1v1h-1zM277 407h1v1h-1zM973 407h1v1h-1zM384 267h1v1h-1zM862 267h1v1h-1zM273 413h1v1h-1zM980 413h1v1h-1zM369 281h1v1h-1zM870 281h1v1h-1zM328 338h1v1h-1zM906 338h1v1h-1zM390 261h1v1h-1zM858 261h1v1h-1zM307 364h1v1h-1zM927 364h1v1h-1zM696 214h1v1h-1zM820 214h1v1h-1zM336 326h1v1h-1zM897 326h1v1h-1zM353 301h1v1h-1zM882 301h1v1h-1zM384 266h1v1h-1zM862 266h1v1h-1zM364 287h1v1h-1zM874 287h1v1h-1zM286 393h1v1h-1zM958 393h1v1h-1zM370 280h1v1h-1zM870 280h1v1h-1zM352 303h1v1h-1zM884 303h1v1h-1zM685 225h1v1h-1zM832 225h1v1h-1zM266 421h1v1h-1zM990 421h1v1h-1zM383 268h1v1h-1zM863 268h1v1h-1zM283 400h1v1h-1zM965 400h1v1h-1zM321 347h1v1h-1zM912 347h1v1h-1zM367 283h1v1h-1zM872 283h1v1h-1zM278 406h1v1h-1zM972 406h1v1h-1zM340 320h1v1h-1zM894 320h1v1h-1zM337 325h1v1h-1zM897 325h1v1h-1zM363 288h1v1h-1zM875 288h1v1h-1zM281 402h1v1h-1zM967 402h1v1h-1zM345 312h1v1h-1zM890 312h1v1h-1zM259 427h1v1h-1zM997 427h1v1h-1zM309 362h1v1h-1zM925 362h1v1h-1zM328 339h1v1h-1zM906 339h1v1h-1zM304 368h1v1h-1zM931 368h1v1h-1zM262 424h1v1h-1zM994 424h1v1h-1zM303 370h1v1h-1zM933 370h1v1h-1zM319 350h1v1h-1zM914 350h1v1h-1z"/>
</g>
<g class="c">
<rect x="2" y="275" width="1686" height="2" fill="#ff0000"/>
<rect x="2" y="339" width="1686" height="2" fill="#ff0000"/>
<rect x="2" y="439" width="1686" height="2" fill="#32cd32"/>
<rect x="2" y="540" width="1686" height="2" fill="#4169e1"/>
</g>
<text x="1063" y="220.1" font-size="36.8" fill="#e8191e">多空转折点</text>
<text x="1246.2" y="219" font-size="40" fill="#e8191e" textLength="84.4" lengthAdjust="spacingAndGlyphs">5080</text>
<g clip-path="url(#c2)" class="c">
<rect x="2" y="631" width="1" height="5" fill="#c0c0c0"/>
<rect x="10" y="631" width="1" height="6" fill="#c0c0c0"/>
<rect x="18" y="631" width="1" height="7" fill="#c0c0c0"/>
<rect x="26" y="631" width="1" height="7" fill="#c0c0c0"/>
<rect x="34" y="631" width="1" height="7" fill="#c0c0c0"/>
<rect x="42" y="631" width="1" height="6" fill="#c0c0c0"/>
<rect x="50" y="631" width="1" height="5" fill="#c0c0c0"/>
<rect x="58" y="631" width="1" height="4" fill="#c0c0c0"/>
<rect x="66" y="631" width="1" height="1" fill="#c0c0c0"/>
<rect x="74" y="631" width="1" height="1" fill="#c0c0c0"/>
<rect x="82" y="631" width="1" height="1" fill="#c0c0c0"/>
<rect x="90" y="629" width="1" height="3" fill="#c0c0c0"/>
<rect x="98" y="627" width="1" height="5" fill="#c0c0c0"/>
<rect x="106" y="626" width="1" height="6" fill="#c0c0c0"/>
<rect x="114" y="627" width="1" height="5" fill="#c0c0c0"/>
<rect x="122" y="627" width="1" height="5" fill="#c0c0c0"/>
<rect x="130" y="627" width="1" height="5" fill="#c0c0c0"/>
<rect x="138" y="627" width="1" height="5" fill="#c0c0c0"/>
<rect x="146" y="626" width="1" height="6" fill="#c0c0c0"/>
<rect x="154" y="625" width="1" height="7" fill="#c0c0c0"/>
<rect x="162" y="625" width="1" height="7" fill="#c0c0c0"/>
<rect x="170" y="623" width="1" height="9" fill="#c0c0c0"/>
<rect x="178" y="623" width="1" height="9" fill="#c0c0c0"/>
<rect x="186" y="623" width="1" height="9" fill="#c0c0c0"/>
<rect x="194" y="623" width="1" height="9" fill="#c0c0c0"/>
<rect x="202" y="621" width="1" height="11" fill="#c0c0c0"/>
<rect x="210" y="620" width="1" height="12" fill="#c0c0c0"/>
<rect x="218" y="617" width="1" height="15" fill="#c0c0c0"/>
<rect x="226" y="613" width="1" height="19" fill="#c0c0c0"/>
<rect x="234" y="607" width="1" height="25" fill="#c0c0c0"/>
<rect x="242" y="605" width="1" height="27" fill="#c0c0c0"/>
<rect x="250" y="602" width="1" height="30" fill="#c0c0c0"/>
<rect x="258" y="597" width="1" height="35" fill="#c0c0c0"/>
<rect x="266" y="594" width="1" height="38" fill="#c0c0c0"/>
<rect x="274" y="591" width="1" height="41" fill="#c0c0c0"/>
<rect x="282" y="586" width="1" height="46" fill="#c0c0c0"/>
<rect x="290" y="581" width="1" height="51" fill="#c0c0c0"/>
<rect x="298" y="580" width="1" height="52" fill="#c0c0c0"/>
<rect x="306" y="579" width="1" height="53" fill="#c0c0c0"/>
<rect x="314" y="579" width="1" height="53" fill="#c0c0c0"/>
<rect x="322" y="581" width="1" height="51" fill="#c0c0c0"/>
<rect x="330" y="580" width="1" height="52" fill="#c0c0c0"/>
<rect x="338" y="578" width="1" height="54" fill="#c0c0c0"/>
<rect x="346" y="577" width="1" height="55" fill="#c0c0c0"/>
<rect x="354" y="578" width="1" height="54" fill="#c0c0c0"/>
<rect x="362" y="580" width="1" height="52" fill="#c0c0c0"/>
<rect x="370" y="584" width="1" height="48" fill="#c0c0c0"/>
<rect x="378" y="590" width="1" height="42" fill="#c0c0c0"/>
<rect x="386" y="594" width="1" height="38" fill="#c0c0c0"/>
<rect x="394" y="597" width="1" height="35" fill="#c0c0c0"/>
<rect x="402" y="597" width="1" height="35" fill="#c0c0c0"/>
<rect x="410" y="599" width="1" height="33" fill="#c0c0c0"/>
<rect x="418" y="603" width="1" height="29" fill="#c0c0c0"/>
<rect x="426" y="606" width="1" height="26" fill="#c0c0c0"/>
<rect x="434" y="609" width="1" height="23" fill="#c0c0c0"/>
<rect x="442" y="607" width="1" height="25" fill="#c0c0c0"/>
<rect x="450" y="606" width="1" height="26" fill="#c0c0c0"/>
<rect x="458" y="608" width="1" height="24" fill="#c0c0c0"/>
<rect x="466" y="608" width="1" height="24" fill="#c0c0c0"/>
<rect x="474" y="607" width="1" height="25" fill="#c0c0c0"/>
<rect x="482" y="607" width="1" height="25" fill="#c0c0c0"/>
<rect x="490" y="608" width="1" height="24" fill="#c0c0c0"/>
<rect x="498" y="611" width="1" height="21" fill="#c0c0c0"/>
<rect x="506" y="614" width="1" height="18" fill="#c0c0c0"/>
<rect x="514" y="616" width="1" height="16" fill="#c0c0c0"/>
<rect x="522" y="622" width="1" height="10" fill="#c0c0c0"/>
<rect x="530" y="627" width="1" height="5" fill="#c0c0c0"/>
<rect x="538" y="630" width="1" height="2" fill="#c0c0c0"/>
<rect x="546" y="631" width="1" height="2" fill="#c0c0c0"/>
<rect x="554" y="631" width="1" height="5" fill="#c0c0c0"/>
<rect x="562" y="631" width="1" height="5" fill="#c0c0c0"/>
<rect x="570" y="631" width="1" height="3" fill="#c0c0c0"/>
<rect x="578" y="631" width="1" height="2" fill="#c0c0c0"/>
<rect x="586" y="631" width="1" height="1" fill="#c0c0c0"/>
<rect x="594" y="631" width="1" height="1" fill="#c0c0c0"/>
<rect x="602" y="631" width="1" height="1" fill="#c0c0c0"/>
<rect x="610" y="631" width="1" height="1" fill="#c0c0c0"/>
<rect x="618" y="629" width="1" height="3" fill="#c0c0c0"/>
<rect x="626" y="629" width="1" height="3" fill="#c0c0c0"/>
<rect x="634" y="626" width="1" height="6" fill="#c0c0c0"/>
<rect x="642" y="625" width="1" height="7" fill="#c0c0c0"/>
<rect x="650" y="620" width="1" height="12" fill="#c0c0c0"/>
<rect x="658" y="615" width="1" height="17" fill="#c0c0c0"/>
<rect x="666" y="608" width="1" height="24" fill="#c0c0c0"/>
<rect x="674" y="602" width="1" height="30" fill="#c0c0c0"/>
<rect x="682" y="600" width="1" height="32" fill="#c0c0c0"/>
<rect x="690" y="599" width="1" height="33" fill="#c0c0c0"/>
<rect x="698" y="599" width="1" height="33" fill="#c0c0c0"/>
<rect x="706" y="598" width="1" height="34" fill="#c0c0c0"/>
<rect x="714" y="601" width="1" height="31" fill="#c0c0c0"/>
<rect x="722" y="606" width="1" height="26" fill="#c0c0c0"/>
<rect x="730" y="610" width="1" height="22" fill="#c0c0c0"/>
<rect x="738" y="615" width="1" height="17" fill="#c0c0c0"/>
<rect x="746" y="622" width="1" height="10" fill="#c0c0c0"/>
<rect x="754" y="629" width="1" height="3" fill="#c0c0c0"/>
<rect x="762" y="631" width="1" height="1" fill="#c0c0c0"/>
<rect x="770" y="631" width="1" height="3" fill="#c0c0c0"/>
<rect x="778" y="631" width="1" height="10" fill="#c0c0c0"/>
<rect x="786" y="631" width="1" height="16" fill="#c0c0c0"/>
<rect x="794" y="631" width="1" height="19" fill="#c0c0c0"/>
<rect x="802" y="631" width="1" height="21" fill="#c0c0c0"/>
<rect x="810" y="631" width="1" height="24" fill="#c0c0c0"/>
<rect x="818" y="631" width="1" height="26" fill="#c0c0c0"/>
<rect x="826" y="631" width="1" height="26" fill="#c0c0c0"/>
<rect x="834" y="631" width="1" height="23" fill="#c0c0c0"/>
<rect x="842" y="631" width="1" height="26" fill="#c0c0c0"/>
<rect x="850" y="631" width="1" height="29" fill="#c0c0c0"/>
<rect x="858" y="631" width="1" height="31" fill="#c0c0c0"/>
<rect x="866" y="631" width="1" height="32" fill="#c0c0c0"/>
<rect x="874" y="631" width="1" height="37" fill="#c0c0c0"/>
<rect x="882" y="631" width="1" height="43" fill="#c0c0c0"/>
<rect x="890" y="631" width="1" height="47" fill="#c0c0c0"/>
<rect x="898" y="631" width="1" height="53" fill="#c0c0c0"/>
<rect x="906" y="631" width="1" height="55" fill="#c0c0c0"/>
<rect x="914" y="631" width="1" height="57" fill="#c0c0c0"/>
<rect x="922" y="631" width="1" height="54" fill="#c0c0c0"/>
<rect x="930" y="631" width="1" height="51" fill="#c0c0c0"/>
<rect x="938" y="631" width="1" height="48" fill="#c0c0c0"/>
<rect x="946" y="631" width="1" height="45" fill="#c0c0c0"/>
<rect x="954" y="631" width="1" height="44" fill="#c0c0c0"/>
<rect x="962" y="631" width="1" height="44" fill="#c0c0c0"/>
<rect x="970" y="631" width="1" height="43" fill="#c0c0c0"/>
<rect x="978" y="631" width="1" height="41" fill="#c0c0c0"/>
<rect x="986" y="631" width="1" height="39" fill="#c0c0c0"/>
<rect x="994" y="631" width="1" height="36" fill="#c0c0c0"/>
<rect x="1002" y="631" width="1" height="33" fill="#c0c0c0"/>
<rect x="1010" y="631" width="1" height="31" fill="#c0c0c0"/>
<rect x="1018" y="631" width="1" height="32" fill="#c0c0c0"/>
<rect x="1026" y="631" width="1" height="34" fill="#c0c0c0"/>
<rect x="1034" y="631" width="1" height="34" fill="#c0c0c0"/>
<rect x="1042" y="631" width="1" height="32" fill="#c0c0c0"/>
<rect x="1050" y="631" width="1" height="33" fill="#c0c0c0"/>
<rect x="1058" y="631" width="1" height="33" fill="#c0c0c0"/>
<rect x="1066" y="631" width="1" height="33" fill="#c0c0c0"/>
<rect x="1074" y="631" width="1" height="33" fill="#c0c0c0"/>
<rect x="1082" y="631" width="1" height="33" fill="#c0c0c0"/>
<rect x="1090" y="631" width="1" height="33" fill="#c0c0c0"/>
<rect x="1098" y="631" width="1" height="29" fill="#c0c0c0"/>
<rect x="1106" y="631" width="1" height="25" fill="#c0c0c0"/>
<rect x="1114" y="631" width="1" height="21" fill="#c0c0c0"/>
<rect x="1122" y="631" width="1" height="19" fill="#c0c0c0"/>
<rect x="1130" y="631" width="1" height="15" fill="#c0c0c0"/>
<rect x="1138" y="631" width="1" height="12" fill="#c0c0c0"/>
<rect x="1146" y="631" width="1" height="12" fill="#c0c0c0"/>
<rect x="1154" y="631" width="1" height="10" fill="#c0c0c0"/>
<rect x="1162" y="631" width="1" height="8" fill="#c0c0c0"/>
<rect x="1170" y="631" width="1" height="5" fill="#c0c0c0"/>
<rect x="1178" y="631" width="1" height="1" fill="#c0c0c0"/>
<rect x="1186" y="631" width="1" height="1" fill="#c0c0c0"/>
<rect x="1194" y="629" width="1" height="3" fill="#c0c0c0"/>
<rect x="1202" y="628" width="1" height="4" fill="#c0c0c0"/>
<rect x="1210" y="629" width="1" height="3" fill="#c0c0c0"/>
<rect x="1218" y="629" width="1" height="3" fill="#c0c0c0"/>
<rect x="1226" y="628" width="1" height="4" fill="#c0c0c0"/>
<rect x="1234" y="630" width="1" height="2" fill="#c0c0c0"/>
<rect x="1242" y="631" width="1" height="1" fill="#c0c0c0"/>
<rect x="1250" y="631" width="1" height="1" fill="#c0c0c0"/>
<rect x="1258" y="631" width="1" height="3" fill="#c0c0c0"/>
<rect x="1266" y="631" width="1" height="6" fill="#c0c0c0"/>
<rect x="1274" y="631" width="1" height="7" fill="#c0c0c0"/>
<rect x="1282" y="631" width="1" height="9" fill="#c0c0c0"/>
<rect x="1290" y="631" width="1" height="10" fill="#c0c0c0"/>
<rect x="1298" y="631" width="1" height="11" fill="#c0c0c0"/>
<rect x="1306" y="631" width="1" height="15" fill="#c0c0c0"/>
<rect x="1314" y="631" width="1" height="16" fill="#c0c0c0"/>
<rect x="1322" y="631" width="1" height="16" fill="#c0c0c0"/>
<rect x="1330" y="631" width="1" height="16" fill="#c0c0c0"/>
<rect x="1338" y="631" width="1" height="11" fill="#c0c0c0"/>
<rect x="1346" y="631" width="1" height="7" fill="#c0c0c0"/>
<rect x="1354" y="631" width="1" height="3" fill="#c0c0c0"/>
<rect x="1362" y="631" width="1" height="1" fill="#c0c0c0"/>
<rect x="1370" y="631" width="1" height="1" fill="#c0c0c0"/>
<rect x="1378" y="630" width="1" height="2" fill="#c0c0c0"/>
<rect x="1386" y="628" width="1" height="4" fill="#c0c0c0"/>
<rect x="1394" y="628" width="1" height="4" fill="#c0c0c0"/>
<rect x="1402" y="626" width="1" height="6" fill="#c0c0c0"/>
<rect x="1410" y="625" width="1" height="7" fill="#c0c0c0"/>
<rect x="1418" y="622" width="1" height="10" fill="#c0c0c0"/>
<rect x="1426" y="623" width="1" height="9" fill="#c0c0c0"/>
<rect x="1434" y="624" width="1" height="8" fill="#c0c0c0"/>
<rect x="1442" y="625" width="1" height="7" fill="#c0c0c0"/>
<rect x="1450" y="625" width="1" height="7" fill="#c0c0c0"/>
<rect x="1458" y="624" width="1" height="8" fill="#c0c0c0"/>
<rect x="1466" y="622" width="1" height="10" fill="#c0c0c0"/>
<rect x="1474" y="621" width="1" height="11" fill="#c0c0c0"/>
<rect x="1482" y="620" width="1" height="12" fill="#c0c0c0"/>
<rect x="1490" y="621" width="1" height="11" fill="#c0c0c0"/>
<rect x="1498" y="623" width="1" height="9" fill="#c0c0c0"/>
<rect x="1506" y="626" width="1" height="6" fill="#c0c0c0"/>
<rect x="1514" y="628" width="1" height="4" fill="#c0c0c0"/>
<rect x="1522" y="631" width="1" height="1" fill="#c0c0c0"/>
<rect x="1530" y="631" width="1" height="2" fill="#c0c0c0"/>
<rect x="1538" y="631" width="1" height="5" fill="#c0c0c0"/>
<rect x="1546" y="631" width="1" height="7" fill="#c0c0c0"/>
<rect x="1554" y="631" width="1" height="7" fill="#c0c0c0"/>
<rect x="1562" y="631" width="1" height="7" fill="#c0c0c0"/>
<rect x="1570" y="631" width="1" height="5" fill="#c0c0c0"/>
<rect x="1578" y="631" width="1" height="5" fill="#c0c0c0"/>
<rect x="1586" y="631" width="1" height="6" fill="#c0c0c0"/>
<rect x="1594" y="631" width="1" height="5" fill="#c0c0c0"/>
<rect x="1602" y="631" width="1" height="1" fill="#c0c0c0"/>
<rect x="1610" y="627" width="1" height="5" fill="#c0c0c0"/>
<rect x="1618" y="623" width="1" height="9" fill="#c0c0c0"/>
<rect x="1626" y="621" width="1" height="11" fill="#c0c0c0"/>
<rect x="1634" y="618" width="1" height="14" fill="#c0c0c0"/>
<rect x="1642" y="617" width="1" height="15" fill="#c0c0c0"/>
<rect x="1650" y="617" width="1" height="15" fill="#c0c0c0"/>
<rect x="1658" y="617" width="1" height="15" fill="#c0c0c0"/>
<rect x="1666" y="617" width="1" height="15" fill="#c0c0c0"/>
<path fill="#ff0000" d="M21 630h1v1h-1zM25 630h1v1h-1zM108 630h3v1h-3zM584 630h3v1h-3zM632 630h3v1h-3zM794 630h2v1h-2zM1228 630h3v1h-3zM1266 630h1v1h-1zM1269 630h4v1h-4zM1405 630h3v1h-3zM1559 630h2v1h-2zM1629 630h3v1h-3zM263 608h2v1h-2zM510 608h3v1h-3zM516 608h1v1h-1zM700 608h3v1h-3zM302 590h1v1h-1zM417 590h3v1h-3zM19 629h3v1h-3zM114 629h3v1h-3zM120 629h2v1h-2zM579 629h3v1h-3zM638 629h3v1h-3zM1234 629h3v1h-3zM1259 629h2v1h-2zM1263 629h3v1h-3zM1553 629h3v1h-3zM1632 629h1v1h-1zM1635 629h1v1h-1zM37 634h3v1h-3zM42 634h3v1h-3zM84 634h4v1h-4zM801 634h1v1h-1zM1204 634h4v1h-4zM1210 634h2v1h-2zM1289 634h2v1h-2zM1293 634h4v1h-4zM1393 634h3v1h-3zM1576 634h4v1h-4zM1612 634h3v1h-3zM1618 634h1v1h-1zM33 633h1v1h-1zM37 633h1v1h-1zM90 633h3v1h-3zM602 633h4v1h-4zM608 633h3v1h-3zM614 633h3v1h-3zM799 633h2v1h-2zM1212 633h2v1h-2zM1216 633h2v1h-2zM1284 633h1v1h-1zM1287 633h2v1h-2zM1399 633h1v1h-1zM1570 633h4v1h-4zM1618 633h3v1h-3zM55 636h3v1h-3zM60 636h4v1h-4zM66 636h4v1h-4zM72 636h4v1h-4zM804 636h2v1h-2zM1198 636h3v1h-3zM1301 636h1v1h-1zM1383 636h2v1h-2zM1387 636h1v1h-1zM1588 636h4v1h-4zM1594 636h3v1h-3zM203 623h4v1h-4zM210 623h2v1h-2zM561 623h2v1h-2zM667 623h1v1h-1zM1463 623h4v1h-4zM1469 623h2v1h-2zM1499 623h4v1h-4zM1505 623h4v1h-4zM1511 623h4v1h-4zM1517 623h4v1h-4zM1523 623h4v1h-4zM1655 623h1v1h-1zM267 607h1v1h-1zM498 607h3v1h-3zM504 607h3v1h-3zM753 607h2v1h-2zM250 613h3v1h-3zM533 613h2v1h-2zM689 613h2v1h-2zM862 657h1v1h-1zM866 657h1v1h-1zM1132 657h1v1h-1zM7 626h4v1h-4zM155 626h4v1h-4zM162 626h3v1h-3zM567 626h3v1h-3zM655 626h4v1h-4zM1422 626h3v1h-3zM1428 626h3v1h-3zM1538 626h1v1h-1zM1541 626h2v1h-2zM1643 626h1v1h-1zM1647 626h1v1h-1zM328 583h2v1h-2zM393 583h3v1h-3zM247 614h1v1h-1zM535 614h1v1h-1zM768 614h2v1h-2zM934 680h3v1h-3zM940 680h4v1h-4zM970 680h1v1h-1zM14 628h3v1h-3zM122 628h1v1h-1zM126 628h3v1h-3zM132 628h1v1h-1zM574 628h2v1h-2zM578 628h2v1h-2zM643 628h4v1h-4zM790 628h1v1h-1zM1240 628h3v1h-3zM1245 628h4v1h-4zM1251 628h4v1h-4zM1258 628h2v1h-2zM1409 628h4v1h-4zM1547 628h3v1h-3zM1636 628h3v1h-3zM273 604h2v1h-2zM463 604h2v1h-2zM468 604h3v1h-3zM712 604h3v1h-3zM746 604h3v1h-3zM222 620h3v1h-3zM550 620h3v1h-3zM672 620h3v1h-3zM1664 620h2v1h-2zM13 627h2v1h-2zM133 627h2v1h-2zM138 627h3v1h-3zM144 627h3v1h-3zM150 627h3v1h-3zM572 627h3v1h-3zM649 627h4v1h-4zM788 627h2v1h-2zM1416 627h3v1h-3zM1422 627h1v1h-1zM1543 627h2v1h-2zM1547 627h1v1h-1zM1641 627h3v1h-3zM908 671h1v1h-1zM1005 671h3v1h-3zM306 588h2v1h-2zM411 588h3v1h-3zM2 624h2v1h-2zM185 624h4v1h-4zM192 624h3v1h-3zM198 624h3v1h-3zM562 624h3v1h-3zM662 624h2v1h-2zM784 624h1v1h-1zM1445 624h4v1h-4zM1451 624h4v1h-4zM1457 624h4v1h-4zM1529 624h4v1h-4zM1653 624h2v1h-2zM289 597h1v1h-1zM433 597h3v1h-3zM879 661h2v1h-2zM1113 661h3v1h-3zM212 622h1v1h-1zM216 622h2v1h-2zM557 622h2v1h-2zM668 622h2v1h-2zM780 622h2v1h-2zM1471 622h2v1h-2zM1475 622h4v1h-4zM1481 622h4v1h-4zM1487 622h4v1h-4zM1493 622h4v1h-4zM1658 622h3v1h-3zM275 603h1v1h-1zM456 603h3v1h-3zM462 603h1v1h-1zM717 603h4v1h-4zM742 603h2v1h-2zM946 681h4v1h-4zM952 681h3v1h-3zM958 681h3v1h-3zM964 681h3v1h-3zM3 625h2v1h-2zM168 625h3v1h-3zM174 625h3v1h-3zM179 625h4v1h-4zM566 625h1v1h-1zM661 625h2v1h-2zM785 625h2v1h-2zM1434 625h3v1h-3zM1439 625h4v1h-4zM1535 625h3v1h-3zM1647 625h3v1h-3zM470 605h1v1h-1zM474 605h3v1h-3zM480 605h3v1h-3zM708 605h1v1h-1zM711 605h1v1h-1zM748 605h2v1h-2zM891 664h1v1h-1zM1058 664h4v1h-4zM1064 664h4v1h-4zM1070 664h4v1h-4zM1076 664h4v1h-4zM1082 664h4v1h-4zM1088 664h4v1h-4zM866 658h3v1h-3zM1130 658h2v1h-2zM809 639h1v1h-1zM1190 639h1v1h-1zM1310 639h3v1h-3zM1372 639h1v1h-1zM912 673h3v1h-3zM993 673h3v1h-3zM929 679h2v1h-2zM934 679h1v1h-1zM971 679h2v1h-2zM268 606h2v1h-2zM482 606h1v1h-1zM486 606h3v1h-3zM492 606h3v1h-3zM705 606h3v1h-3zM752 606h1v1h-1zM811 641h1v1h-1zM1318 641h1v1h-1zM1322 641h2v1h-2zM1360 641h1v1h-1zM1363 641h4v1h-4zM283 599h3v1h-3zM440 599h2v1h-2zM262 609h1v1h-1zM517 609h2v1h-2zM521 609h1v1h-1zM700 609h1v1h-1zM758 609h2v1h-2zM45 635h1v1h-1zM48 635h4v1h-4zM78 635h4v1h-4zM1201 635h1v1h-1zM1299 635h2v1h-2zM1387 635h3v1h-3zM1582 635h4v1h-4zM1600 635h3v1h-3zM1606 635h3v1h-3zM245 615h2v1h-2zM539 615h1v1h-1zM683 615h3v1h-3zM769 615h2v1h-2zM874 660h1v1h-1zM878 660h2v1h-2zM1118 660h4v1h-4zM279 601h2v1h-2zM450 601h2v1h-2zM860 656h3v1h-3zM1135 656h3v1h-3zM928 678h2v1h-2zM976 678h3v1h-3zM842 652h2v1h-2zM1147 652h3v1h-3zM25 631h3v1h-3zM102 631h3v1h-3zM590 631h3v1h-3zM628 631h1v1h-1zM632 631h1v1h-1zM795 631h2v1h-2zM1223 631h2v1h-2zM1275 631h4v1h-4zM1404 631h1v1h-1zM1560 631h2v1h-2zM1564 631h1v1h-1zM1625 631h2v1h-2zM814 642h2v1h-2zM1181 642h4v1h-4zM1324 642h1v1h-1zM1328 642h3v1h-3zM1334 642h3v1h-3zM1340 642h3v1h-3zM1346 642h3v1h-3zM1352 642h3v1h-3zM1358 642h2v1h-2zM844 653h2v1h-2zM884 662h3v1h-3zM1108 662h2v1h-2zM1112 662h1v1h-1zM822 646h1v1h-1zM1166 646h1v1h-1zM1170 646h1v1h-1zM901 668h3v1h-3zM1022 668h4v1h-4zM1028 668h3v1h-3zM31 632h3v1h-3zM96 632h4v1h-4zM592 632h1v1h-1zM596 632h3v1h-3zM620 632h3v1h-3zM626 632h3v1h-3zM1218 632h1v1h-1zM1222 632h1v1h-1zM1281 632h3v1h-3zM1400 632h2v1h-2zM1565 632h3v1h-3zM1623 632h2v1h-2zM895 665h2v1h-2zM1047 665h3v1h-3zM1053 665h3v1h-3zM294 594h2v1h-2zM427 594h1v1h-1zM278 602h2v1h-2zM451 602h2v1h-2zM723 602h3v1h-3zM729 602h3v1h-3zM735 602h3v1h-3zM741 602h2v1h-2zM919 676h1v1h-1zM982 676h3v1h-3zM336 580h1v1h-1zM376 580h3v1h-3zM381 580h1v1h-1zM258 610h1v1h-1zM522 610h3v1h-3zM696 610h2v1h-2zM759 610h2v1h-2zM334 581h3v1h-3zM382 581h3v1h-3zM820 645h3v1h-3zM1171 645h2v1h-2zM285 598h2v1h-2zM438 598h3v1h-3zM1193 638h3v1h-3zM1305 638h2v1h-2zM1375 638h4v1h-4zM831 649h2v1h-2zM1158 649h2v1h-2zM239 617h3v1h-3zM679 617h2v1h-2zM774 617h1v1h-1zM346 578h3v1h-3zM352 578h3v1h-3zM357 578h4v1h-4zM364 578h3v1h-3zM369 578h2v1h-2zM810 640h2v1h-2zM1187 640h3v1h-3zM1312 640h2v1h-2zM1316 640h2v1h-2zM1369 640h3v1h-3zM815 643h2v1h-2zM1330 643h1v1h-1zM848 654h4v1h-4zM1141 654h3v1h-3zM889 663h3v1h-3zM1094 663h4v1h-4zM1100 663h4v1h-4zM1106 663h2v1h-2zM218 621h1v1h-1zM221 621h2v1h-2zM556 621h1v1h-1zM779 621h2v1h-2zM1661 621h1v1h-1zM1017 669h3v1h-3zM290 596h2v1h-2zM430 596h1v1h-1zM433 596h1v1h-1zM322 584h4v1h-4zM399 584h3v1h-3zM827 648h2v1h-2zM1159 648h2v1h-2zM340 579h3v1h-3zM370 579h3v1h-3zM376 579h1v1h-1zM300 591h2v1h-2zM444 600h4v1h-4zM1176 644h3v1h-3zM896 666h2v1h-2zM1040 666h4v1h-4zM1046 666h2v1h-2zM989 674h2v1h-2zM805 637h2v1h-2zM1304 637h1v1h-1zM1381 637h2v1h-2zM906 670h3v1h-3zM1011 670h3v1h-3zM825 647h3v1h-3zM1164 647h3v1h-3zM256 611h2v1h-2zM527 611h3v1h-3zM694 611h2v1h-2zM763 611h1v1h-1zM329 582h3v1h-3zM387 582h4v1h-4zM872 659h3v1h-3zM1124 659h4v1h-4zM311 587h3v1h-3zM411 587h1v1h-1zM227 619h3v1h-3zM550 619h1v1h-1zM674 619h1v1h-1zM1666 619h1v1h-1zM317 586h2v1h-2zM406 586h2v1h-2zM241 616h2v1h-2zM540 616h2v1h-2zM917 675h2v1h-2zM987 675h2v1h-2zM900 667h2v1h-2zM1030 667h2v1h-2zM1034 667h4v1h-4zM296 593h1v1h-1zM424 593h1v1h-1zM833 650h1v1h-1zM1153 650h3v1h-3zM233 618h4v1h-4zM544 618h3v1h-3zM677 618h2v1h-2zM775 618h2v1h-2zM319 585h1v1h-1zM401 585h2v1h-2zM405 585h1v1h-1zM854 655h4v1h-4zM1138 655h1v1h-1zM836 651h4v1h-4zM922 677h3v1h-3zM981 677h2v1h-2zM911 672h2v1h-2zM999 672h3v1h-3zM253 612h1v1h-1zM530 612h1v1h-1zM691 612h1v1h-1zM764 612h2v1h-2zM428 595h2v1h-2zM305 589h2v1h-2zM416 589h2v1h-2zM422 592h2v1h-2z"/>
</g>
<g clip-path="url(#c3)" class="c">
<line x1="2" x2="1687" y1="734.5" y2="734.5" stroke="#c0c0c0" stroke-width="1" stroke-dasharray="3 3"/>
<line x1="2" x2="1687" y1="784.5" y2="784.5" stroke="#c0c0c0" stroke-width="1" stroke-dasharray="3 3"/>
<path fill="#1e90ff" d="M201 743h1v1h-1zM365 743h2v1h-2zM441 743h1v1h-1zM446 743h2v1h-2zM472 743h2v1h-2zM481 743h2v1h-2zM650 743h1v1h-1zM696 743h2v1h-2zM700 743h2v1h-2zM708 743h1v1h-1zM1474 743h1v1h-1zM1608 743h1v1h-1zM1618 743h10v1h-10zM1637 743h4v1h-4zM7 771h2v1h-2zM543 771h2v1h-2zM549 771h1v1h-1zM749 771h2v1h-2zM756 771h1v1h-1zM773 771h1v1h-1zM799 771h2v1h-2zM804 771h2v1h-2zM822 771h1v1h-1zM840 771h1v1h-1zM923 771h2v1h-2zM938 771h1v1h-1zM948 771h2v1h-2zM988 771h4v1h-4zM1012 771h1v1h-1zM1093 771h1v1h-1zM1257 771h1v1h-1zM1270 771h2v1h-2zM1279 771h3v1h-3zM1286 771h6v1h-6zM1301 771h1v1h-1zM1315 771h3v1h-3zM1523 771h11v1h-11zM1541 771h7v1h-7zM227 726h2v1h-2zM238 726h1v1h-1zM251 726h1v1h-1zM297 726h1v1h-1zM305 726h2v1h-2zM3 774h2v1h-2zM776 774h1v1h-1zM793 774h1v1h-1zM810 774h6v1h-6zM819 774h1v1h-1zM843 774h5v1h-5zM866 774h1v1h-1zM920 774h1v1h-1zM953 774h1v1h-1zM969 774h7v1h-7zM1014 774h1v1h-1zM1035 774h3v1h-3zM1043 774h1v1h-1zM1056 774h1v1h-1zM1062 774h2v1h-2zM1091 774h1v1h-1zM1302 774h1v1h-1zM1312 774h1v1h-1zM58 752h1v1h-1zM77 752h2v1h-2zM85 752h1v1h-1zM109 752h1v1h-1zM153 752h2v1h-2zM377 752h1v1h-1zM380 752h3v1h-3zM415 752h1v1h-1zM433 752h2v1h-2zM490 752h1v1h-1zM586 752h1v1h-1zM616 752h2v1h-2zM619 752h1v1h-1zM630 752h1v1h-1zM715 752h1v1h-1zM1172 752h2v1h-2zM1192 752h1v1h-1zM1338 752h3v1h-3zM1361 752h4v1h-4zM1378 752h4v1h-4zM1396 752h1v1h-1zM1422 752h1v1h-1zM1454 752h2v1h-2zM1488 752h2v1h-2zM1594 752h1v1h-1zM64 748h2v1h-2zM68 748h2v1h-2zM90 748h1v1h-1zM107 748h1v1h-1zM163 748h2v1h-2zM181 748h5v1h-5zM196 748h1v1h-1zM372 748h1v1h-1zM389 748h2v1h-2zM411 748h1v1h-1zM437 748h1v1h-1zM456 748h7v1h-7zM486 748h1v1h-1zM635 748h1v1h-1zM645 748h1v1h-1zM712 748h1v1h-1zM1180 748h4v1h-4zM1187 748h1v1h-1zM1401 748h1v1h-1zM1420 748h1v1h-1zM1464 748h3v1h-3zM1484 748h1v1h-1zM1601 748h2v1h-2zM1655 748h3v1h-3zM1660 748h2v1h-2zM59 751h1v1h-1zM75 751h2v1h-2zM86 751h2v1h-2zM109 751h1v1h-1zM155 751h3v1h-3zM375 751h2v1h-2zM383 751h2v1h-2zM414 751h1v1h-1zM435 751h1v1h-1zM489 751h1v1h-1zM618 751h1v1h-1zM631 751h1v1h-1zM641 751h2v1h-2zM714 751h1v1h-1zM1174 751h2v1h-2zM1190 751h2v1h-2zM1341 751h4v1h-4zM1359 751h2v1h-2zM1365 751h4v1h-4zM1373 751h5v1h-5zM1397 751h2v1h-2zM1422 751h1v1h-1zM1456 751h2v1h-2zM1487 751h1v1h-1zM1595 751h2v1h-2zM55 756h1v1h-1zM111 756h1v1h-1zM120 756h1v1h-1zM129 756h18v1h-18zM498 756h17v1h-17zM574 756h5v1h-5zM594 756h1v1h-1zM610 756h1v1h-1zM624 756h2v1h-2zM627 756h1v1h-1zM719 756h1v1h-1zM1130 756h3v1h-3zM1165 756h2v1h-2zM1205 756h1v1h-1zM1222 756h3v1h-3zM1235 756h1v1h-1zM1336 756h1v1h-1zM1425 756h1v1h-1zM1443 756h4v1h-4zM1492 756h1v1h-1zM1592 756h1v1h-1zM224 728h2v1h-2zM241 728h6v1h-6zM298 728h1v1h-1zM300 728h3v1h-3zM310 728h2v1h-2zM338 728h6v1h-6zM347 728h3v1h-3zM60 750h2v1h-2zM73 750h2v1h-2zM88 750h1v1h-1zM108 750h1v1h-1zM158 750h3v1h-3zM191 750h4v1h-4zM374 750h1v1h-1zM385 750h2v1h-2zM413 750h1v1h-1zM436 750h1v1h-1zM488 750h1v1h-1zM632 750h1v1h-1zM639 750h2v1h-2zM643 750h1v1h-1zM714 750h1v1h-1zM1176 750h2v1h-2zM1189 750h1v1h-1zM1345 750h5v1h-5zM1356 750h3v1h-3zM1369 750h4v1h-4zM1399 750h1v1h-1zM1421 750h1v1h-1zM1458 750h2v1h-2zM1486 750h1v1h-1zM1597 750h2v1h-2zM33 763h1v1h-1zM40 763h7v1h-7zM518 763h1v1h-1zM563 763h1v1h-1zM739 763h1v1h-1zM834 763h1v1h-1zM1097 763h1v1h-1zM1122 763h1v1h-1zM1143 763h2v1h-2zM1151 763h2v1h-2zM1242 763h1v1h-1zM1332 763h1v1h-1zM1498 763h1v1h-1zM1501 763h6v1h-6zM1516 763h1v1h-1zM1554 763h2v1h-2zM1565 763h1v1h-1zM1575 763h1v1h-1zM1588 763h1v1h-1zM54 757h1v1h-1zM112 757h1v1h-1zM119 757h1v1h-1zM515 757h1v1h-1zM571 757h3v1h-3zM595 757h1v1h-1zM609 757h1v1h-1zM626 757h1v1h-1zM719 757h1v1h-1zM1129 757h1v1h-1zM1133 757h5v1h-5zM1163 757h2v1h-2zM1206 757h1v1h-1zM1219 757h3v1h-3zM1236 757h1v1h-1zM1335 757h1v1h-1zM1425 757h1v1h-1zM1441 757h2v1h-2zM1493 757h1v1h-1zM1591 757h1v1h-1zM217 734h1v1h-1zM318 734h1v1h-1zM329 734h2v1h-2zM357 734h1v1h-1zM664 734h1v1h-1zM677 734h1v1h-1zM52 760h1v1h-1zM113 760h1v1h-1zM116 760h1v1h-1zM516 760h1v1h-1zM567 760h1v1h-1zM599 760h2v1h-2zM604 760h2v1h-2zM722 760h5v1h-5zM732 760h3v1h-3zM1110 760h3v1h-3zM1115 760h3v1h-3zM1125 760h1v1h-1zM1140 760h1v1h-1zM1157 760h2v1h-2zM1210 760h3v1h-3zM1239 760h1v1h-1zM1334 760h1v1h-1zM1430 760h6v1h-6zM1495 760h1v1h-1zM1514 760h1v1h-1zM1568 760h1v1h-1zM1572 760h1v1h-1zM1590 760h1v1h-1zM878 784h2v1h-2zM885 784h2v1h-2zM892 784h2v1h-2zM902 784h2v1h-2zM10 769h2v1h-2zM522 769h1v1h-1zM531 769h3v1h-3zM541 769h1v1h-1zM552 769h2v1h-2zM746 769h1v1h-1zM758 769h1v1h-1zM771 769h1v1h-1zM823 769h1v1h-1zM839 769h1v1h-1zM930 769h1v1h-1zM946 769h1v1h-1zM997 769h14v1h-14zM1094 769h1v1h-1zM1254 769h2v1h-2zM1274 769h2v1h-2zM1294 769h2v1h-2zM1299 769h1v1h-1zM1323 769h3v1h-3zM1521 769h1v1h-1zM1549 769h1v1h-1zM53 759h1v1h-1zM113 759h1v1h-1zM117 759h1v1h-1zM516 759h1v1h-1zM568 759h1v1h-1zM598 759h1v1h-1zM606 759h1v1h-1zM721 759h1v1h-1zM727 759h5v1h-5zM1113 759h2v1h-2zM1126 759h2v1h-2zM1139 759h1v1h-1zM1159 759h2v1h-2zM1209 759h1v1h-1zM1213 759h3v1h-3zM1238 759h1v1h-1zM1334 759h1v1h-1zM1427 759h3v1h-3zM1436 759h2v1h-2zM1494 759h1v1h-1zM1569 759h1v1h-1zM1571 759h1v1h-1zM1590 759h1v1h-1zM51 761h1v1h-1zM115 761h1v1h-1zM517 761h1v1h-1zM566 761h1v1h-1zM601 761h3v1h-3zM735 761h3v1h-3zM1107 761h3v1h-3zM1118 761h2v1h-2zM1124 761h1v1h-1zM1141 761h1v1h-1zM1155 761h2v1h-2zM1240 761h1v1h-1zM1333 761h1v1h-1zM1496 761h1v1h-1zM1510 761h5v1h-5zM1567 761h1v1h-1zM1573 761h1v1h-1zM1589 761h1v1h-1zM57 753h1v1h-1zM79 753h2v1h-2zM84 753h1v1h-1zM110 753h1v1h-1zM151 753h2v1h-2zM378 753h2v1h-2zM416 753h1v1h-1zM428 753h5v1h-5zM491 753h2v1h-2zM584 753h2v1h-2zM587 753h2v1h-2zM614 753h2v1h-2zM620 753h2v1h-2zM630 753h1v1h-1zM716 753h1v1h-1zM1171 753h1v1h-1zM1193 753h1v1h-1zM1198 753h5v1h-5zM1337 753h1v1h-1zM1382 753h3v1h-3zM1395 753h1v1h-1zM1423 753h1v1h-1zM1452 753h2v1h-2zM1490 753h1v1h-1zM1593 753h1v1h-1zM12 768h2v1h-2zM25 768h2v1h-2zM521 768h1v1h-1zM534 768h3v1h-3zM539 768h2v1h-2zM554 768h1v1h-1zM744 768h2v1h-2zM759 768h1v1h-1zM770 768h1v1h-1zM824 768h1v1h-1zM838 768h1v1h-1zM1095 768h1v1h-1zM1253 768h1v1h-1zM1296 768h2v1h-2zM1299 768h1v1h-1zM1326 768h3v1h-3zM1520 768h1v1h-1zM1549 768h1v1h-1zM34 762h6v1h-6zM47 762h4v1h-4zM114 762h1v1h-1zM518 762h1v1h-1zM564 762h2v1h-2zM602 762h1v1h-1zM738 762h1v1h-1zM1098 762h9v1h-9zM1120 762h4v1h-4zM1142 762h1v1h-1zM1153 762h2v1h-2zM1241 762h1v1h-1zM1333 762h1v1h-1zM1497 762h1v1h-1zM1507 762h3v1h-3zM1515 762h1v1h-1zM1566 762h1v1h-1zM1574 762h1v1h-1zM1588 762h1v1h-1zM222 730h1v1h-1zM314 730h1v1h-1zM335 730h1v1h-1zM354 730h1v1h-1zM56 754h1v1h-1zM81 754h3v1h-3zM110 754h1v1h-1zM122 754h3v1h-3zM149 754h2v1h-2zM417 754h1v1h-1zM422 754h6v1h-6zM493 754h2v1h-2zM581 754h3v1h-3zM589 754h3v1h-3zM613 754h1v1h-1zM622 754h1v1h-1zM629 754h1v1h-1zM717 754h1v1h-1zM1169 754h2v1h-2zM1194 754h4v1h-4zM1203 754h1v1h-1zM1337 754h1v1h-1zM1385 754h10v1h-10zM1423 754h1v1h-1zM1451 754h1v1h-1zM1491 754h1v1h-1zM1593 754h1v1h-1zM31 764h2v1h-2zM519 764h1v1h-1zM562 764h1v1h-1zM740 764h1v1h-1zM831 764h4v1h-4zM1097 764h1v1h-1zM1145 764h1v1h-1zM1148 764h3v1h-3zM1243 764h4v1h-4zM1332 764h1v1h-1zM1499 764h2v1h-2zM1517 764h1v1h-1zM1553 764h1v1h-1zM1556 764h3v1h-3zM1564 764h1v1h-1zM1576 764h1v1h-1zM1587 764h1v1h-1zM5 773h1v1h-1zM546 773h1v1h-1zM753 773h2v1h-2zM775 773h1v1h-1zM794 773h2v1h-2zM808 773h2v1h-2zM820 773h1v1h-1zM842 773h1v1h-1zM921 773h1v1h-1zM951 773h2v1h-2zM976 773h6v1h-6zM1014 773h1v1h-1zM1038 773h5v1h-5zM1057 773h1v1h-1zM1060 773h2v1h-2zM1092 773h1v1h-1zM1263 773h5v1h-5zM1302 773h1v1h-1zM1313 773h1v1h-1zM231 724h2v1h-2zM235 724h2v1h-2zM254 724h2v1h-2zM296 724h1v1h-1zM6 772h1v1h-1zM545 772h4v1h-4zM751 772h2v1h-2zM755 772h1v1h-1zM774 772h1v1h-1zM796 772h3v1h-3zM806 772h2v1h-2zM821 772h1v1h-1zM841 772h1v1h-1zM922 772h1v1h-1zM950 772h1v1h-1zM982 772h6v1h-6zM1013 772h1v1h-1zM1058 772h2v1h-2zM1092 772h1v1h-1zM1258 772h5v1h-5zM1268 772h2v1h-2zM1282 772h4v1h-4zM1301 772h1v1h-1zM1314 772h1v1h-1zM1546 772h1v1h-1zM202 742h1v1h-1zM364 742h1v1h-1zM442 742h4v1h-4zM474 742h7v1h-7zM651 742h1v1h-1zM694 742h2v1h-2zM702 742h3v1h-3zM707 742h1v1h-1zM1609 742h1v1h-1zM1612 742h6v1h-6zM1628 742h9v1h-9zM55 755h1v1h-1zM82 755h1v1h-1zM111 755h1v1h-1zM121 755h1v1h-1zM125 755h4v1h-4zM147 755h2v1h-2zM418 755h4v1h-4zM495 755h3v1h-3zM579 755h2v1h-2zM592 755h2v1h-2zM611 755h2v1h-2zM623 755h1v1h-1zM628 755h1v1h-1zM718 755h1v1h-1zM1167 755h2v1h-2zM1204 755h1v1h-1zM1225 755h10v1h-10zM1336 755h1v1h-1zM1424 755h1v1h-1zM1447 755h4v1h-4zM1491 755h1v1h-1zM1592 755h1v1h-1zM168 745h2v1h-2zM172 745h3v1h-3zM199 745h1v1h-1zM369 745h1v1h-1zM396 745h9v1h-9zM439 745h1v1h-1zM450 745h2v1h-2zM468 745h2v1h-2zM484 745h1v1h-1zM648 745h1v1h-1zM710 745h1v1h-1zM1409 745h6v1h-6zM1419 745h1v1h-1zM1471 745h1v1h-1zM1478 745h3v1h-3zM1605 745h2v1h-2zM1646 745h5v1h-5zM229 725h2v1h-2zM237 725h1v1h-1zM252 725h2v1h-2zM296 725h1v1h-1zM781 777h4v1h-4zM787 777h2v1h-2zM857 777h3v1h-3zM869 777h1v1h-1zM918 777h1v1h-1zM1017 777h1v1h-1zM1031 777h1v1h-1zM1047 777h2v1h-2zM1052 777h1v1h-1zM1073 777h7v1h-7zM1084 777h4v1h-4zM1304 777h1v1h-1zM1309 777h1v1h-1zM170 744h2v1h-2zM200 744h1v1h-1zM367 744h2v1h-2zM440 744h1v1h-1zM448 744h2v1h-2zM470 744h2v1h-2zM483 744h1v1h-1zM649 744h1v1h-1zM698 744h2v1h-2zM709 744h1v1h-1zM1415 744h4v1h-4zM1472 744h2v1h-2zM1475 744h3v1h-3zM1607 744h1v1h-1zM1641 744h5v1h-5zM216 735h1v1h-1zM319 735h1v1h-1zM327 735h2v1h-2zM358 735h1v1h-1zM663 735h1v1h-1zM677 735h1v1h-1zM66 747h2v1h-2zM91 747h4v1h-4zM106 747h1v1h-1zM165 747h2v1h-2zM177 747h4v1h-4zM197 747h1v1h-1zM371 747h1v1h-1zM391 747h2v1h-2zM409 747h2v1h-2zM438 747h1v1h-1zM454 747h2v1h-2zM463 747h4v1h-4zM486 747h1v1h-1zM634 747h1v1h-1zM646 747h1v1h-1zM711 747h1v1h-1zM1184 747h3v1h-3zM1402 747h2v1h-2zM1420 747h1v1h-1zM1467 747h2v1h-2zM1482 747h2v1h-2zM1603 747h1v1h-1zM1653 747h2v1h-2zM1662 747h3v1h-3zM226 727h1v1h-1zM239 727h2v1h-2zM247 727h4v1h-4zM297 727h1v1h-1zM303 727h2v1h-2zM307 727h3v1h-3zM344 727h3v1h-3zM215 736h1v1h-1zM320 736h1v1h-1zM325 736h2v1h-2zM359 736h1v1h-1zM661 736h2v1h-2zM678 736h1v1h-1zM290 713h1v1h-1zM277 718h2v1h-2zM293 718h1v1h-1zM95 746h11v1h-11zM167 746h1v1h-1zM175 746h2v1h-2zM198 746h1v1h-1zM370 746h1v1h-1zM393 746h3v1h-3zM405 746h4v1h-4zM439 746h1v1h-1zM452 746h2v1h-2zM467 746h1v1h-1zM485 746h1v1h-1zM647 746h1v1h-1zM711 746h1v1h-1zM1404 746h5v1h-5zM1419 746h1v1h-1zM1469 746h2v1h-2zM1481 746h1v1h-1zM1604 746h1v1h-1zM1651 746h2v1h-2zM1665 746h2v1h-2zM53 758h1v1h-1zM112 758h1v1h-1zM118 758h1v1h-1zM515 758h1v1h-1zM569 758h2v1h-2zM596 758h2v1h-2zM607 758h2v1h-2zM720 758h1v1h-1zM1128 758h1v1h-1zM1138 758h1v1h-1zM1161 758h2v1h-2zM1207 758h2v1h-2zM1216 758h3v1h-3zM1237 758h1v1h-1zM1335 758h1v1h-1zM1426 758h1v1h-1zM1438 758h3v1h-3zM1494 758h1v1h-1zM1570 758h1v1h-1zM1591 758h1v1h-1zM284 715h3v1h-3zM291 715h1v1h-1zM2 775h1v1h-1zM777 775h1v1h-1zM791 775h2v1h-2zM816 775h3v1h-3zM848 775h5v1h-5zM863 775h3v1h-3zM867 775h1v1h-1zM920 775h1v1h-1zM954 775h5v1h-5zM965 775h4v1h-4zM1015 775h1v1h-1zM1033 775h2v1h-2zM1044 775h2v1h-2zM1054 775h2v1h-2zM1064 775h2v1h-2zM1091 775h1v1h-1zM1303 775h1v1h-1zM1311 775h1v1h-1zM203 741h3v1h-3zM363 741h1v1h-1zM443 741h1v1h-1zM652 741h3v1h-3zM682 741h4v1h-4zM691 741h3v1h-3zM705 741h2v1h-2zM1610 741h2v1h-2zM14 767h2v1h-2zM22 767h3v1h-3zM27 767h2v1h-2zM521 767h1v1h-1zM537 767h2v1h-2zM555 767h2v1h-2zM743 767h1v1h-1zM760 767h1v1h-1zM767 767h3v1h-3zM825 767h1v1h-1zM837 767h1v1h-1zM1095 767h1v1h-1zM1252 767h1v1h-1zM1298 767h1v1h-1zM1329 767h2v1h-2zM1519 767h1v1h-1zM1550 767h1v1h-1zM9 770h1v1h-1zM523 770h8v1h-8zM542 770h1v1h-1zM550 770h2v1h-2zM747 770h2v1h-2zM757 770h1v1h-1zM772 770h1v1h-1zM801 770h3v1h-3zM822 770h1v1h-1zM839 770h1v1h-1zM925 770h5v1h-5zM931 770h17v1h-17zM992 770h5v1h-5zM1011 770h1v1h-1zM1093 770h1v1h-1zM1256 770h1v1h-1zM1272 770h2v1h-2zM1276 770h3v1h-3zM1292 770h2v1h-2zM1300 770h1v1h-1zM1318 770h5v1h-5zM1522 770h1v1h-1zM1534 770h7v1h-7zM1548 770h1v1h-1zM258 722h10v1h-10zM295 722h1v1h-1zM18 765h1v1h-1zM30 765h1v1h-1zM520 765h1v1h-1zM560 765h2v1h-2zM741 765h1v1h-1zM762 765h2v1h-2zM828 765h3v1h-3zM835 765h1v1h-1zM1096 765h1v1h-1zM1146 765h2v1h-2zM1247 765h3v1h-3zM1331 765h1v1h-1zM1518 765h1v1h-1zM1552 765h1v1h-1zM1559 765h2v1h-2zM1563 765h1v1h-1zM1577 765h1v1h-1zM1587 765h1v1h-1zM778 776h3v1h-3zM789 776h2v1h-2zM853 776h4v1h-4zM860 776h3v1h-3zM868 776h1v1h-1zM919 776h1v1h-1zM959 776h6v1h-6zM1016 776h1v1h-1zM1032 776h1v1h-1zM1046 776h1v1h-1zM1053 776h1v1h-1zM1066 776h7v1h-7zM1088 776h3v1h-3zM1304 776h1v1h-1zM1310 776h1v1h-1zM62 749h2v1h-2zM70 749h3v1h-3zM89 749h1v1h-1zM108 749h1v1h-1zM161 749h2v1h-2zM186 749h5v1h-5zM195 749h1v1h-1zM373 749h1v1h-1zM387 749h2v1h-2zM412 749h1v1h-1zM437 749h1v1h-1zM458 749h1v1h-1zM487 749h1v1h-1zM633 749h1v1h-1zM636 749h3v1h-3zM644 749h1v1h-1zM713 749h1v1h-1zM1178 749h2v1h-2zM1188 749h1v1h-1zM1350 749h6v1h-6zM1400 749h1v1h-1zM1421 749h1v1h-1zM1460 749h4v1h-4zM1485 749h1v1h-1zM1599 749h2v1h-2zM1658 749h2v1h-2zM212 738h1v1h-1zM322 738h1v1h-1zM360 738h1v1h-1zM659 738h1v1h-1zM680 738h1v1h-1zM16 766h2v1h-2zM19 766h3v1h-3zM29 766h1v1h-1zM520 766h1v1h-1zM557 766h3v1h-3zM742 766h1v1h-1zM761 766h1v1h-1zM764 766h3v1h-3zM826 766h2v1h-2zM836 766h1v1h-1zM1096 766h1v1h-1zM1250 766h2v1h-2zM1331 766h1v1h-1zM1519 766h1v1h-1zM1551 766h1v1h-1zM1561 766h2v1h-2zM1578 766h9v1h-9zM785 778h2v1h-2zM870 778h1v1h-1zM917 778h1v1h-1zM1018 778h1v1h-1zM1030 778h1v1h-1zM1049 778h3v1h-3zM1080 778h4v1h-4zM1305 778h1v1h-1zM1308 778h1v1h-1zM206 740h5v1h-5zM362 740h1v1h-1zM655 740h2v1h-2zM681 740h1v1h-1zM686 740h5v1h-5zM220 731h2v1h-2zM315 731h1v1h-1zM333 731h2v1h-2zM355 731h1v1h-1zM671 731h4v1h-4zM880 785h2v1h-2zM883 785h2v1h-2zM894 785h1v1h-1zM901 785h1v1h-1zM282 716h2v1h-2zM292 716h1v1h-1zM872 780h1v1h-1zM916 780h1v1h-1zM1021 780h3v1h-3zM1027 780h2v1h-2zM1306 780h1v1h-1zM268 721h4v1h-4zM294 721h1v1h-1zM218 733h1v1h-1zM317 733h1v1h-1zM331 733h1v1h-1zM357 733h1v1h-1zM665 733h2v1h-2zM676 733h1v1h-1zM219 732h1v1h-1zM316 732h1v1h-1zM332 732h1v1h-1zM356 732h1v1h-1zM667 732h4v1h-4zM675 732h1v1h-1zM287 714h4v1h-4zM211 739h1v1h-1zM361 739h1v1h-1zM657 739h2v1h-2zM680 739h1v1h-1zM873 781h1v1h-1zM906 781h4v1h-4zM915 781h1v1h-1zM1024 781h3v1h-3zM272 720h3v1h-3zM294 720h1v1h-1zM871 779h1v1h-1zM917 779h1v1h-1zM1019 779h2v1h-2zM1029 779h1v1h-1zM1050 779h1v1h-1zM1305 779h1v1h-1zM1307 779h1v1h-1zM875 783h3v1h-3zM887 783h3v1h-3zM891 783h1v1h-1zM904 783h1v1h-1zM914 783h1v1h-1zM233 723h2v1h-2zM256 723h2v1h-2zM295 723h1v1h-1zM223 729h1v1h-1zM242 729h1v1h-1zM299 729h1v1h-1zM312 729h2v1h-2zM336 729h2v1h-2zM350 729h4v1h-4zM874 782h1v1h-1zM890 782h1v1h-1zM905 782h1v1h-1zM910 782h5v1h-5zM213 737h2v1h-2zM321 737h1v1h-1zM323 737h2v1h-2zM359 737h1v1h-1zM660 737h1v1h-1zM679 737h1v1h-1zM275 719h2v1h-2zM293 719h1v1h-1zM279 717h3v1h-3zM292 717h1v1h-1zM882 786h1v1h-1zM895 786h2v1h-2zM900 786h1v1h-1zM897 787h3v1h-3zM898 788h1v1h-1z"/>
</g>
<path d="M5 12h7.4l-3.7 4.3z" fill="#000"/>
<text class="t" x="17.3" y="17" textLength="64.3" lengthAdjust="spacingAndGlyphs">CHINA300-,H4</text>
<text class="t" x="88" y="17" textLength="27.6" lengthAdjust="spacingAndGlyphs">5154.0</text>
<text class="t" x="119" y="17" textLength="27.6" lengthAdjust="spacingAndGlyphs">5183.0</text>
<text class="t" x="150" y="17" textLength="27.6" lengthAdjust="spacingAndGlyphs">5146.6</text>
<text class="t" x="181" y="17" textLength="27.6" lengthAdjust="spacingAndGlyphs">5170.3</text>
<text class="t" x="5.9" y="582" textLength="117.6" lengthAdjust="spacingAndGlyphs">MACD(12,26,9) 35.62 25.51</text>
<text class="t" x="5.9" y="709" textLength="68.2" lengthAdjust="spacingAndGlyphs">RSI(14) 60.2286</text>
<g class="c">
<rect x="1688" y="36" width="2" height="1" fill="#000"/>
<rect x="1688" y="69" width="2" height="1" fill="#000"/>
<rect x="1688" y="102" width="2" height="1" fill="#000"/>
<rect x="1688" y="135" width="2" height="1" fill="#000"/>
<rect x="1688" y="168" width="2" height="1" fill="#000"/>
<rect x="1688" y="201" width="2" height="1" fill="#000"/>
<rect x="1688" y="234" width="2" height="1" fill="#000"/>
<rect x="1688" y="267" width="2" height="1" fill="#000"/>
<rect x="1688" y="300" width="2" height="1" fill="#000"/>
<rect x="1688" y="333" width="2" height="1" fill="#000"/>
<rect x="1688" y="366" width="2" height="1" fill="#000"/>
<rect x="1688" y="399" width="2" height="1" fill="#000"/>
<rect x="1688" y="432" width="2" height="1" fill="#000"/>
<rect x="1688" y="465" width="2" height="1" fill="#000"/>
<rect x="1688" y="498" width="2" height="1" fill="#000"/>
<rect x="1688" y="531" width="2" height="1" fill="#000"/>
<rect x="1688" y="564" width="2" height="1" fill="#000"/>
<rect x="1688" y="631" width="2" height="1" fill="#000"/>
<rect x="1688" y="734" width="2" height="1" fill="#000"/>
<rect x="1688" y="784" width="2" height="1" fill="#000"/>
<rect x="1688" y="571" width="1" height="1" fill="#000"/>
<rect x="1688" y="693" width="1" height="1" fill="#000"/>
<rect x="1688" y="698" width="1" height="1" fill="#000"/>
<rect x="1688" y="820" width="1" height="1" fill="#000"/>
<rect x="2" y="822" width="1" height="3" fill="#000"/>
<rect x="66" y="822" width="1" height="3" fill="#000"/>
<rect x="130" y="822" width="1" height="3" fill="#000"/>
<rect x="194" y="822" width="1" height="3" fill="#000"/>
<rect x="258" y="822" width="1" height="3" fill="#000"/>
<rect x="322" y="822" width="1" height="3" fill="#000"/>
<rect x="386" y="822" width="1" height="3" fill="#000"/>
<rect x="450" y="822" width="1" height="3" fill="#000"/>
<rect x="514" y="822" width="1" height="3" fill="#000"/>
<rect x="578" y="822" width="1" height="3" fill="#000"/>
<rect x="642" y="822" width="1" height="3" fill="#000"/>
<rect x="706" y="822" width="1" height="3" fill="#000"/>
<rect x="770" y="822" width="1" height="3" fill="#000"/>
<rect x="834" y="822" width="1" height="3" fill="#000"/>
<rect x="898" y="822" width="1" height="3" fill="#000"/>
<rect x="962" y="822" width="1" height="3" fill="#000"/>
<rect x="1026" y="822" width="1" height="3" fill="#000"/>
<rect x="1090" y="822" width="1" height="3" fill="#000"/>
<rect x="1154" y="822" width="1" height="3" fill="#000"/>
<rect x="1218" y="822" width="1" height="3" fill="#000"/>
<rect x="1282" y="822" width="1" height="3" fill="#000"/>
<rect x="1346" y="822" width="1" height="3" fill="#000"/>
<rect x="1410" y="822" width="1" height="3" fill="#000"/>
<rect x="1474" y="822" width="1" height="3" fill="#000"/>
<rect x="1538" y="822" width="1" height="3" fill="#000"/>
<rect x="1602" y="822" width="1" height="3" fill="#000"/>
<rect x="1666" y="822" width="1" height="3" fill="#000"/>
</g>
<text class="t" x="1693" y="40" textLength="27.6" lengthAdjust="spacingAndGlyphs">5904.0</text>
<text class="t" x="1693" y="73" textLength="27.6" lengthAdjust="spacingAndGlyphs">5838.0</text>
<text class="t" x="1693" y="106" textLength="27.6" lengthAdjust="spacingAndGlyphs">5770.0</text>
<text class="t" x="1693" y="139" textLength="27.6" lengthAdjust="spacingAndGlyphs">5702.0</text>
<text class="t" x="1693" y="172" textLength="27.6" lengthAdjust="spacingAndGlyphs">5636.0</text>
<text class="t" x="1693" y="205" textLength="27.6" lengthAdjust="spacingAndGlyphs">5568.0</text>
<text class="t" x="1693" y="238" textLength="27.6" lengthAdjust="spacingAndGlyphs">5500.0</text>
<text class="t" x="1693" y="271" textLength="27.6" lengthAdjust="spacingAndGlyphs">5434.0</text>
<text class="t" x="1693" y="304" textLength="27.6" lengthAdjust="spacingAndGlyphs">5366.0</text>
<text class="t" x="1693" y="337" textLength="27.6" lengthAdjust="spacingAndGlyphs">5298.0</text>
<text class="t" x="1693" y="370" textLength="27.6" lengthAdjust="spacingAndGlyphs">5232.0</text>
<text class="t" x="1693" y="403" textLength="27.6" lengthAdjust="spacingAndGlyphs">5164.0</text>
<text class="t" x="1693" y="436" textLength="27.6" lengthAdjust="spacingAndGlyphs">5096.0</text>
<text class="t" x="1693" y="469" textLength="27.6" lengthAdjust="spacingAndGlyphs">5030.0</text>
<text class="t" x="1693" y="502" textLength="27.6" lengthAdjust="spacingAndGlyphs">4962.0</text>
<text class="t" x="1693" y="535" textLength="27.6" lengthAdjust="spacingAndGlyphs">4894.0</text>
<text class="t" x="1693" y="568" textLength="27.6" lengthAdjust="spacingAndGlyphs">4828.0</text>
<text class="t" x="1691.5" y="580" textLength="27.5" lengthAdjust="spacingAndGlyphs">139.86</text>
<text class="t" x="1692" y="635" textLength="18.5" lengthAdjust="spacingAndGlyphs">0.00</text>
<text class="t" x="1691" y="691" textLength="31" lengthAdjust="spacingAndGlyphs">-143.82</text>
<text class="t" x="1691.5" y="707" textLength="14.5" lengthAdjust="spacingAndGlyphs">100</text>
<text class="t" x="1692" y="738" textLength="9.5" lengthAdjust="spacingAndGlyphs">70</text>
<text class="t" x="1692" y="788" textLength="9.5" lengthAdjust="spacingAndGlyphs">30</text>
<text class="t" x="1692" y="818" textLength="4.8" lengthAdjust="spacingAndGlyphs">0</text>
<g class="c">
<rect x="1689" y="270" width="36" height="11" fill="#ff0000"/>
<rect x="1689" y="334" width="36" height="11" fill="#ff0000"/>
<rect x="1689" y="391" width="36" height="11" fill="#000"/>
<rect x="1689" y="434" width="36" height="11" fill="#32cd32"/>
<rect x="1689" y="535" width="36" height="11" fill="#4169e1"/>
</g>
<text class="w" x="1693.2" y="279" textLength="28" lengthAdjust="spacingAndGlyphs">5415.0</text>
<text class="w" x="1693.2" y="343" textLength="28" lengthAdjust="spacingAndGlyphs">5285.0</text>
<text class="w" x="1693.2" y="400" textLength="28" lengthAdjust="spacingAndGlyphs">5170.3</text>
<text class="w" x="1693.2" y="443" textLength="28" lengthAdjust="spacingAndGlyphs">5080.0</text>
<text class="w" x="1693.2" y="544" textLength="28" lengthAdjust="spacingAndGlyphs">4875.0</text>
<text class="t" x="1.2" y="834" textLength="51.7" lengthAdjust="spacingAndGlyphs">11 Dec 2020</text>
<text class="t" x="65.2" y="834" textLength="55.1" lengthAdjust="spacingAndGlyphs">17 Dec 05:00</text>
<text class="t" x="129.2" y="834" textLength="55.1" lengthAdjust="spacingAndGlyphs">23 Dec 05:00</text>
<text class="t" x="193.2" y="834" textLength="55.1" lengthAdjust="spacingAndGlyphs">29 Dec 05:00</text>
<text class="t" x="257.2" y="834" textLength="48.3" lengthAdjust="spacingAndGlyphs">5 Jan 05:00</text>
<text class="t" x="321.2" y="834" textLength="53.1" lengthAdjust="spacingAndGlyphs">11 Jan 05:00</text>
<text class="t" x="385.2" y="834" textLength="53.1" lengthAdjust="spacingAndGlyphs">15 Jan 05:00</text>
<text class="t" x="449.2" y="834" textLength="53.1" lengthAdjust="spacingAndGlyphs">21 Jan 05:00</text>
<text class="t" x="513.2" y="834" textLength="53.1" lengthAdjust="spacingAndGlyphs">27 Jan 05:00</text>
<text class="t" x="577.2" y="834" textLength="51" lengthAdjust="spacingAndGlyphs">2 Feb 05:00</text>
<text class="t" x="641.2" y="834" textLength="51" lengthAdjust="spacingAndGlyphs">8 Feb 05:00</text>
<text class="t" x="705.2" y="834" textLength="55.8" lengthAdjust="spacingAndGlyphs">19 Feb 05:00</text>
<text class="t" x="769.2" y="834" textLength="55.8" lengthAdjust="spacingAndGlyphs">25 Feb 05:00</text>
<text class="t" x="833.2" y="834" textLength="50.3" lengthAdjust="spacingAndGlyphs">3 Mar 05:00</text>
<text class="t" x="897.2" y="834" textLength="50.3" lengthAdjust="spacingAndGlyphs">9 Mar 05:00</text>
<text class="t" x="961.2" y="834" textLength="55.3" lengthAdjust="spacingAndGlyphs">15 Mar 05:00</text>
<text class="t" x="1025.2" y="834" textLength="55.3" lengthAdjust="spacingAndGlyphs">19 Mar 05:00</text>
<text class="t" x="1089.2" y="834" textLength="55.3" lengthAdjust="spacingAndGlyphs">25 Mar 05:00</text>
<text class="t" x="1153.2" y="834" textLength="55.3" lengthAdjust="spacingAndGlyphs">31 Mar 05:00</text>
<text class="t" x="1217.2" y="834" textLength="49.1" lengthAdjust="spacingAndGlyphs">7 Apr 05:00</text>
<text class="t" x="1281.2" y="834" textLength="54.4" lengthAdjust="spacingAndGlyphs">13 Apr 05:00</text>
<text class="t" x="1345.2" y="834" textLength="54.4" lengthAdjust="spacingAndGlyphs">19 Apr 05:00</text>
<text class="t" x="1409.2" y="834" textLength="54.4" lengthAdjust="spacingAndGlyphs">23 Apr 05:00</text>
<text class="t" x="1473.2" y="834" textLength="54.4" lengthAdjust="spacingAndGlyphs">29 Apr 05:00</text>
<text class="t" x="1537.2" y="834" textLength="58.5" lengthAdjust="spacingAndGlyphs">10 May 05:00</text>
<text class="t" x="1601.2" y="834" textLength="58.5" lengthAdjust="spacingAndGlyphs">14 May 05:00</text>
<text class="t" x="1665.2" y="834" textLength="58.5" lengthAdjust="spacingAndGlyphs">20 May 05:00</text>
</svg></body></html>
